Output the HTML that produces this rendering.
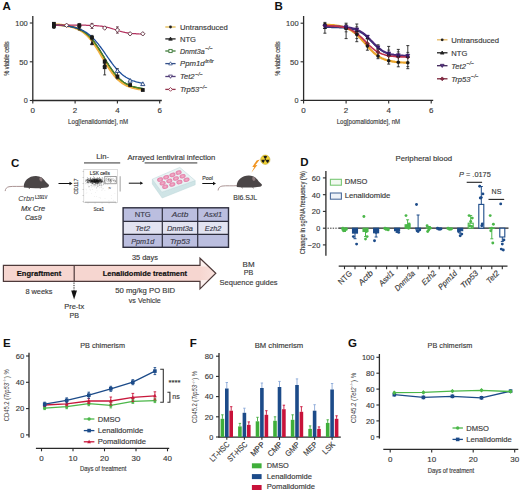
<!DOCTYPE html>
<html><head><meta charset="utf-8"><style>
html,body{margin:0;padding:0;background:#fff;width:520px;height:492px;overflow:hidden}
svg{display:block}
text{font-family:"Liberation Sans", sans-serif}
</style></head><body>
<svg width="520" height="492" viewBox="0 0 520 492" font-family='"Liberation Sans", sans-serif'>
<rect width="520" height="492" fill="#fff"/>
<text x="2.5" y="10.3" font-size="11.5" text-anchor="start" fill="#111" font-weight="bold">A</text>
<line x1="32.8" y1="16.0" x2="32.8" y2="101.1" stroke="#2a2a2a" stroke-width="1.3"/>
<line x1="32.2" y1="100.5" x2="161.8" y2="100.5" stroke="#2a2a2a" stroke-width="1.3"/>
<line x1="29.8" y1="100.5" x2="32.8" y2="100.5" stroke="#2a2a2a" stroke-width="1.1"/>
<text x="27.8" y="103.3" font-size="8" text-anchor="end" fill="#3a3a3a" stroke="#3a3a3a" stroke-width="0.15" textLength="4" lengthAdjust="spacingAndGlyphs">0</text>
<line x1="29.8" y1="61.8" x2="32.8" y2="61.8" stroke="#2a2a2a" stroke-width="1.1"/>
<text x="27.8" y="64.5" font-size="8" text-anchor="end" fill="#3a3a3a" stroke="#3a3a3a" stroke-width="0.15" textLength="8.5" lengthAdjust="spacingAndGlyphs">50</text>
<line x1="29.8" y1="23.0" x2="32.8" y2="23.0" stroke="#2a2a2a" stroke-width="1.1"/>
<text x="27.8" y="25.8" font-size="8" text-anchor="end" fill="#3a3a3a" stroke="#3a3a3a" stroke-width="0.15" textLength="12.5" lengthAdjust="spacingAndGlyphs">100</text>
<line x1="32.8" y1="100.5" x2="32.8" y2="103.5" stroke="#2a2a2a" stroke-width="1.1"/>
<text x="32.8" y="112.6" font-size="8" text-anchor="middle" fill="#3a3a3a" stroke="#3a3a3a" stroke-width="0.15">0</text>
<line x1="75.1" y1="100.5" x2="75.1" y2="103.5" stroke="#2a2a2a" stroke-width="1.1"/>
<text x="75.1" y="112.6" font-size="8" text-anchor="middle" fill="#3a3a3a" stroke="#3a3a3a" stroke-width="0.15">2</text>
<line x1="117.4" y1="100.5" x2="117.4" y2="103.5" stroke="#2a2a2a" stroke-width="1.1"/>
<text x="117.4" y="112.6" font-size="8" text-anchor="middle" fill="#3a3a3a" stroke="#3a3a3a" stroke-width="0.15">4</text>
<line x1="159.7" y1="100.5" x2="159.7" y2="103.5" stroke="#2a2a2a" stroke-width="1.1"/>
<text x="159.7" y="112.6" font-size="8" text-anchor="middle" fill="#3a3a3a" stroke="#3a3a3a" stroke-width="0.15">6</text>
<text x="98.1" y="123.6" font-size="7.5" text-anchor="middle" fill="#3a3a3a" stroke="#3a3a3a" stroke-width="0.15" textLength="60" lengthAdjust="spacingAndGlyphs">Log[lenalidomide], nM</text>
<text x="8.6" y="58.6" font-size="6.8" text-anchor="middle" fill="#3a3a3a" stroke="#3a3a3a" stroke-width="0.15" textLength="34.5" lengthAdjust="spacingAndGlyphs" transform="rotate(-90 8.6 58.6)">% viable cells</text>
<path d="M53.9,24.6 L55.0,24.6 L56.1,24.7 L57.1,24.8 L58.2,24.8 L59.2,24.9 L60.3,25.0 L61.4,25.1 L62.4,25.2 L63.5,25.3 L64.5,25.4 L65.6,25.6 L66.6,25.7 L67.7,25.9 L68.8,26.1 L69.8,26.3 L70.9,26.6 L71.9,26.8 L73.0,27.1 L74.0,27.4 L75.1,27.8 L76.2,28.2 L77.2,28.6 L78.3,29.1 L79.3,29.6 L80.4,30.2 L81.4,30.8 L82.5,31.5 L83.6,32.3 L84.6,33.1 L85.7,34.0 L86.7,34.9 L87.8,35.9 L88.8,37.0 L89.9,38.2 L91.0,39.5 L92.0,40.8 L93.1,42.2 L94.1,43.7 L95.2,45.2 L96.2,46.8 L97.3,48.5 L98.4,50.2 L99.4,51.9 L100.5,53.7 L101.5,55.5 L102.6,57.3 L103.7,59.1 L104.7,60.9 L105.8,62.7 L106.8,64.4 L107.9,66.1 L108.9,67.8 L110.0,69.4 L111.1,70.9 L112.1,72.4 L113.2,73.8 L114.2,75.1 L115.3,76.4 L116.3,77.5 L117.4,78.6 L118.5,79.7 L119.5,80.6 L120.6,81.5 L121.6,82.3 L122.7,83.1 L123.7,83.7 L124.8,84.4 L125.9,84.9 L126.9,85.5 L128.0,85.9 L129.0,86.4 L130.1,86.8 L131.1,87.1 L132.2,87.5 L133.3,87.8 L134.3,88.0 L135.4,88.3 L136.4,88.5 L137.5,88.7 L138.6,88.9 L139.6,89.0 L140.7,89.2 L141.7,89.3 L142.8,89.4" stroke="#f0b040" fill="none" stroke-width="2.6" stroke-linecap="round"/>
<path d="M53.9,24.9 L55.0,25.0 L56.1,25.0 L57.1,25.1 L58.2,25.1 L59.2,25.2 L60.3,25.2 L61.4,25.3 L62.4,25.4 L63.5,25.5 L64.5,25.6 L65.6,25.7 L66.6,25.9 L67.7,26.0 L68.8,26.2 L69.8,26.4 L70.9,26.6 L71.9,26.8 L73.0,27.1 L74.0,27.3 L75.1,27.6 L76.2,28.0 L77.2,28.4 L78.3,28.8 L79.3,29.2 L80.4,29.7 L81.4,30.3 L82.5,30.9 L83.6,31.5 L84.6,32.2 L85.7,33.0 L86.7,33.8 L87.8,34.7 L88.8,35.7 L89.9,36.8 L91.0,37.9 L92.0,39.1 L93.1,40.4 L94.1,41.7 L95.2,43.1 L96.2,44.6 L97.3,46.2 L98.4,47.8 L99.4,49.4 L100.5,51.1 L101.5,52.9 L102.6,54.6 L103.7,56.4 L104.7,58.2 L105.8,59.9 L106.8,61.7 L107.9,63.4 L108.9,65.1 L110.0,66.8 L111.1,68.4 L112.1,69.9 L113.2,71.4 L114.2,72.8 L115.3,74.1 L116.3,75.4 L117.4,76.5 L118.5,77.7 L119.5,78.7 L120.6,79.6 L121.6,80.5 L122.7,81.4 L123.7,82.1 L124.8,82.8 L125.9,83.5 L126.9,84.0 L128.0,84.6 L129.0,85.1 L130.1,85.5 L131.1,85.9 L132.2,86.3 L133.3,86.6 L134.3,86.9 L135.4,87.2 L136.4,87.4 L137.5,87.7 L138.6,87.9 L139.6,88.0 L140.7,88.2 L141.7,88.4 L142.8,88.5" stroke="#222222" fill="none" stroke-width="1.1" stroke-linecap="round"/>
<path d="M53.9,24.9 L55.0,25.0 L56.1,25.0 L57.1,25.1 L58.2,25.1 L59.2,25.2 L60.3,25.3 L61.4,25.3 L62.4,25.4 L63.5,25.5 L64.5,25.6 L65.6,25.8 L66.6,25.9 L67.7,26.1 L68.8,26.2 L69.8,26.4 L70.9,26.6 L71.9,26.9 L73.0,27.1 L74.0,27.4 L75.1,27.7 L76.2,28.1 L77.2,28.4 L78.3,28.9 L79.3,29.3 L80.4,29.8 L81.4,30.4 L82.5,31.0 L83.6,31.7 L84.6,32.4 L85.7,33.2 L86.7,34.0 L87.8,34.9 L88.8,35.9 L89.9,37.0 L91.0,38.1 L92.0,39.3 L93.1,40.6 L94.1,42.0 L95.2,43.4 L96.2,44.9 L97.3,46.5 L98.4,48.1 L99.4,49.8 L100.5,51.5 L101.5,53.2 L102.6,55.0 L103.7,56.7 L104.7,58.5 L105.8,60.3 L106.8,62.0 L107.9,63.8 L108.9,65.5 L110.0,67.1 L111.1,68.7 L112.1,70.2 L113.2,71.7 L114.2,73.0 L115.3,74.4 L116.3,75.6 L117.4,76.8 L118.5,77.9 L119.5,78.9 L120.6,79.8 L121.6,80.7 L122.7,81.5 L123.7,82.3 L124.8,83.0 L125.9,83.6 L126.9,84.2 L128.0,84.7 L129.0,85.2 L130.1,85.6 L131.1,86.0 L132.2,86.4 L133.3,86.7 L134.3,87.0 L135.4,87.2 L136.4,87.5 L137.5,87.7 L138.6,87.9 L139.6,88.1 L140.7,88.2 L141.7,88.4 L142.8,88.5" stroke="#4a8a2a" fill="none" stroke-width="1.3" stroke-linecap="round"/>
<path d="M53.9,25.0 L55.0,25.0 L56.1,25.1 L57.1,25.1 L58.2,25.2 L59.2,25.2 L60.3,25.3 L61.4,25.4 L62.4,25.5 L63.5,25.6 L64.5,25.7 L65.6,25.8 L66.6,25.9 L67.7,26.1 L68.8,26.2 L69.8,26.4 L70.9,26.6 L71.9,26.8 L73.0,27.0 L74.0,27.3 L75.1,27.5 L76.2,27.8 L77.2,28.2 L78.3,28.5 L79.3,28.9 L80.4,29.3 L81.4,29.8 L82.5,30.3 L83.6,30.9 L84.6,31.5 L85.7,32.1 L86.7,32.8 L87.8,33.6 L88.8,34.4 L89.9,35.2 L91.0,36.1 L92.0,37.1 L93.1,38.2 L94.1,39.3 L95.2,40.4 L96.2,41.6 L97.3,42.9 L98.4,44.2 L99.4,45.6 L100.5,47.0 L101.5,48.4 L102.6,49.9 L103.7,51.4 L104.7,52.9 L105.8,54.5 L106.8,56.0 L107.9,57.5 L108.9,59.0 L110.0,60.5 L111.1,62.0 L112.1,63.4 L113.2,64.8 L114.2,66.1 L115.3,67.4 L116.3,68.7 L117.4,69.8 L118.5,71.0 L119.5,72.0 L120.6,73.0 L121.6,74.0 L122.7,74.9 L123.7,75.7 L124.8,76.4 L125.9,77.2 L126.9,77.8 L128.0,78.4 L129.0,79.0 L130.1,79.5 L131.1,80.0 L132.2,80.5 L133.3,80.9 L134.3,81.2 L135.4,81.6 L136.4,81.9 L137.5,82.2 L138.6,82.4 L139.6,82.7 L140.7,82.9 L141.7,83.1 L142.8,83.3" stroke="#1e4f9c" fill="none" stroke-width="1.3" stroke-linecap="round"/>
<path d="M53.9,25.1 L55.0,25.1 L56.1,25.1 L57.1,25.1 L58.2,25.1 L59.2,25.1 L60.3,25.1 L61.4,25.1 L62.4,25.1 L63.5,25.1 L64.5,25.1 L65.6,25.1 L66.6,25.1 L67.7,25.1 L68.8,25.1 L69.8,25.1 L70.9,25.1 L71.9,25.1 L73.0,25.1 L74.0,25.1 L75.1,25.1 L76.2,25.1 L77.2,25.1 L78.3,25.1 L79.3,25.1 L80.4,25.2 L81.4,25.2 L82.5,25.2 L83.6,25.2 L84.6,25.2 L85.7,25.2 L86.7,25.3 L87.8,25.3 L88.8,25.3 L89.9,25.3 L91.0,25.4 L92.0,25.4 L93.1,25.5 L94.1,25.5 L95.2,25.6 L96.2,25.7 L97.3,25.8 L98.4,25.9 L99.4,26.0 L100.5,26.1 L101.5,26.2 L102.6,26.4 L103.7,26.6 L104.7,26.8 L105.8,27.0 L106.8,27.2 L107.9,27.5 L108.9,27.7 L110.0,28.0 L111.1,28.3 L112.1,28.7 L113.2,29.0 L114.2,29.3 L115.3,29.7 L116.3,30.0 L117.4,30.3 L118.5,30.7 L119.5,31.0 L120.6,31.3 L121.6,31.6 L122.7,31.9 L123.7,32.1 L124.8,32.4 L125.9,32.6 L126.9,32.8 L128.0,32.9 L129.0,33.1 L130.1,33.2 L131.1,33.4 L132.2,33.5 L133.3,33.6 L134.3,33.7 L135.4,33.7 L136.4,33.8 L137.5,33.9 L138.6,33.9 L139.6,34.0 L140.7,34.0 L141.7,34.0 L142.8,34.1" stroke="#b3305e" fill="none" stroke-width="1.2"/>
<line x1="53.9" y1="23.0" x2="53.9" y2="28.4" stroke="#222" stroke-width="0.9"/>
<line x1="52.5" y1="23.0" x2="55.3" y2="23.0" stroke="#222" stroke-width="0.9"/>
<line x1="52.5" y1="28.4" x2="55.3" y2="28.4" stroke="#222" stroke-width="0.9"/>
<line x1="79.3" y1="23.8" x2="79.3" y2="30.0" stroke="#222" stroke-width="0.9"/>
<line x1="77.9" y1="23.8" x2="80.7" y2="23.8" stroke="#222" stroke-width="0.9"/>
<line x1="77.9" y1="30.0" x2="80.7" y2="30.0" stroke="#222" stroke-width="0.9"/>
<line x1="92.0" y1="35.4" x2="92.0" y2="44.7" stroke="#222" stroke-width="0.9"/>
<line x1="90.6" y1="35.4" x2="93.4" y2="35.4" stroke="#222" stroke-width="0.9"/>
<line x1="90.6" y1="44.7" x2="93.4" y2="44.7" stroke="#222" stroke-width="0.9"/>
<line x1="104.7" y1="59.4" x2="104.7" y2="74.9" stroke="#222" stroke-width="0.9"/>
<line x1="103.3" y1="59.4" x2="106.1" y2="59.4" stroke="#222" stroke-width="0.9"/>
<line x1="103.3" y1="74.9" x2="106.1" y2="74.9" stroke="#222" stroke-width="0.9"/>
<line x1="117.4" y1="68.7" x2="117.4" y2="78.8" stroke="#222" stroke-width="0.9"/>
<line x1="116.0" y1="68.7" x2="118.8" y2="68.7" stroke="#222" stroke-width="0.9"/>
<line x1="116.0" y1="78.8" x2="118.8" y2="78.8" stroke="#222" stroke-width="0.9"/>
<line x1="92.0" y1="23.4" x2="92.0" y2="28.4" stroke="#5a2a3a" stroke-width="0.9"/>
<line x1="90.6" y1="23.4" x2="93.4" y2="23.4" stroke="#5a2a3a" stroke-width="0.9"/>
<line x1="90.6" y1="28.4" x2="93.4" y2="28.4" stroke="#5a2a3a" stroke-width="0.9"/>
<line x1="117.4" y1="26.9" x2="117.4" y2="33.1" stroke="#5a2a3a" stroke-width="0.9"/>
<line x1="116.0" y1="26.9" x2="118.8" y2="26.9" stroke="#5a2a3a" stroke-width="0.9"/>
<line x1="116.0" y1="33.1" x2="118.8" y2="33.1" stroke="#5a2a3a" stroke-width="0.9"/>
<path d="M66.6,23.1 L68.8,25.3 L66.6,27.5 L64.4,25.3 Z" stroke="#5a2a3a" fill="#fff" stroke-width="0.9"/>
<path d="M79.3,23.5 L81.5,25.7 L79.3,27.9 L77.1,25.7 Z" stroke="#5a2a3a" fill="#fff" stroke-width="0.9"/>
<path d="M92.0,23.5 L94.2,25.7 L92.0,27.9 L89.8,25.7 Z" stroke="#5a2a3a" fill="#fff" stroke-width="0.9"/>
<path d="M104.7,25.8 L106.9,28.0 L104.7,30.2 L102.5,28.0 Z" stroke="#5a2a3a" fill="#fff" stroke-width="0.9"/>
<path d="M117.4,27.8 L119.6,30.0 L117.4,32.2 L115.2,30.0 Z" stroke="#5a2a3a" fill="#fff" stroke-width="0.9"/>
<path d="M130.1,31.6 L132.3,33.8 L130.1,36.0 L127.9,33.8 Z" stroke="#5a2a3a" fill="#fff" stroke-width="0.9"/>
<path d="M142.8,31.6 L145.0,33.8 L142.8,36.0 L140.6,33.8 Z" stroke="#5a2a3a" fill="#fff" stroke-width="0.9"/>
<rect x="52.0" y="21.9" width="3.8" height="3.8" fill="#1a1a1a" stroke="none" stroke-width="1"/>
<rect x="52.0" y="24.2" width="3.8" height="3.8" fill="#1a1a1a" stroke="none" stroke-width="1"/>
<rect x="77.4" y="23.4" width="3.8" height="3.8" fill="#1a1a1a" stroke="none" stroke-width="1"/>
<rect x="90.1" y="35.8" width="3.8" height="3.8" fill="#1a1a1a" stroke="none" stroke-width="1"/>
<rect x="102.8" y="59.9" width="3.8" height="3.8" fill="#1a1a1a" stroke="none" stroke-width="1"/>
<rect x="102.8" y="65.3" width="3.8" height="3.8" fill="#1a1a1a" stroke="none" stroke-width="1"/>
<rect x="115.5" y="74.6" width="3.8" height="3.8" fill="#1a1a1a" stroke="none" stroke-width="1"/>
<rect x="128.2" y="83.1" width="3.8" height="3.8" fill="#1a1a1a" stroke="none" stroke-width="1"/>
<rect x="140.9" y="88.1" width="3.8" height="3.8" fill="#1a1a1a" stroke="none" stroke-width="1"/>
<path d="M53.9,23.1 L56.0,26.9 L51.8,26.9 Z" stroke="none" fill="#1a1a1a" stroke-width="1"/>
<path d="M79.3,24.7 L81.4,28.5 L77.2,28.5 Z" stroke="none" fill="#1a1a1a" stroke-width="1"/>
<path d="M92.0,40.9 L94.1,44.8 L89.9,44.8 Z" stroke="none" fill="#1a1a1a" stroke-width="1"/>
<path d="M104.7,62.6 L106.8,66.4 L102.6,66.4 Z" stroke="none" fill="#1a1a1a" stroke-width="1"/>
<path d="M117.4,68.6 L119.5,72.4 L115.3,72.4 Z" stroke="#1e3f7c" fill="#fff" stroke-width="0.9"/>
<path d="M130.1,78.4 L132.2,82.2 L128.0,82.2 Z" stroke="#1e3f7c" fill="#fff" stroke-width="0.9"/>
<path d="M142.8,81.8 L144.9,85.6 L140.7,85.6 Z" stroke="#1e3f7c" fill="#fff" stroke-width="0.9"/>
<line x1="165.3" y1="27.0" x2="175.6" y2="27.0" stroke="#e2b850" stroke-width="1.3"/>
<circle cx="170.5" cy="27.0" r="1.4" fill="#222" stroke="none" stroke-width="1"/>
<text x="180.0" y="29.8" font-size="7.8" text-anchor="start" fill="#3a3a3a" stroke="#3a3a3a" stroke-width="0.15" textLength="47.8" lengthAdjust="spacingAndGlyphs">Untransduced</text>
<line x1="165.3" y1="38.9" x2="175.6" y2="38.9" stroke="#222" stroke-width="1.3"/>
<path d="M170.5,37.1 L172.3,40.199999999999996 L168.7,40.199999999999996 Z" stroke="#222" fill="#222" stroke-width="0.8"/>
<text x="180.0" y="41.7" font-size="7.8" text-anchor="start" fill="#3a3a3a" stroke="#3a3a3a" stroke-width="0.15" textLength="16" lengthAdjust="spacingAndGlyphs">NTG</text>
<line x1="165.3" y1="51.0" x2="175.6" y2="51.0" stroke="#3f7a3a" stroke-width="1.3"/>
<rect x="168.9" y="49.4" width="3.2" height="3.2" fill="#fff" stroke="#3f7a3a" stroke-width="0.9"/>
<text x="180.0" y="53.8" font-size="7.8" text-anchor="start" fill="#3a3a3a" stroke="#3a3a3a" stroke-width="0.15" font-style="italic" textLength="24.6" lengthAdjust="spacingAndGlyphs">Dnmt3a</text>
<text x="205.2" y="50.4" font-size="4.6" text-anchor="start" fill="#3a3a3a" stroke="#3a3a3a" stroke-width="0.15" font-style="italic" textLength="7.6" lengthAdjust="spacingAndGlyphs">−/−</text>
<line x1="165.3" y1="63.6" x2="175.6" y2="63.6" stroke="#34508a" stroke-width="1.3"/>
<path d="M170.5,61.800000000000004 L172.3,64.9 L168.7,64.9 Z" stroke="#34508a" fill="#fff" stroke-width="0.8"/>
<text x="180.0" y="66.4" font-size="7.8" text-anchor="start" fill="#3a3a3a" stroke="#3a3a3a" stroke-width="0.15" font-style="italic" textLength="24.6" lengthAdjust="spacingAndGlyphs">Ppm1d</text>
<text x="205.2" y="63.0" font-size="4.6" text-anchor="start" fill="#3a3a3a" stroke="#3a3a3a" stroke-width="0.15" font-style="italic" textLength="8.6" lengthAdjust="spacingAndGlyphs">tr/tr</text>
<line x1="165.3" y1="76.5" x2="175.6" y2="76.5" stroke="#54407a" stroke-width="1.3"/>
<path d="M168.6,75.1 L172.4,75.1 L170.5,78.3 Z" stroke="#54407a" fill="#fff" stroke-width="0.9"/>
<text x="180.0" y="79.3" font-size="7.8" text-anchor="start" fill="#3a3a3a" stroke="#3a3a3a" stroke-width="0.15" font-style="italic" textLength="14.6" lengthAdjust="spacingAndGlyphs">Tet2</text>
<text x="195.2" y="75.9" font-size="4.6" text-anchor="start" fill="#3a3a3a" stroke="#3a3a3a" stroke-width="0.15" font-style="italic" textLength="7.6" lengthAdjust="spacingAndGlyphs">−/−</text>
<line x1="165.3" y1="89.4" x2="175.6" y2="89.4" stroke="#94364e" stroke-width="1.3"/>
<path d="M170.5,87.5 L172.4,89.4 L170.5,91.30000000000001 L168.6,89.4 Z" stroke="#94364e" fill="#fff" stroke-width="0.9"/>
<text x="180.0" y="92.2" font-size="7.8" text-anchor="start" fill="#3a3a3a" stroke="#3a3a3a" stroke-width="0.15" font-style="italic" textLength="19.2" lengthAdjust="spacingAndGlyphs">Trp53</text>
<text x="199.8" y="88.8" font-size="4.6" text-anchor="start" fill="#3a3a3a" stroke="#3a3a3a" stroke-width="0.15" font-style="italic" textLength="7.6" lengthAdjust="spacingAndGlyphs">−/−</text>
<text x="274.5" y="10.3" font-size="11.5" text-anchor="start" fill="#111" font-weight="bold">B</text>
<line x1="303.6" y1="16.0" x2="303.6" y2="101.0" stroke="#2a2a2a" stroke-width="1.3"/>
<line x1="303.0" y1="100.4" x2="433.2" y2="100.4" stroke="#2a2a2a" stroke-width="1.3"/>
<line x1="300.6" y1="100.4" x2="303.6" y2="100.4" stroke="#2a2a2a" stroke-width="1.1"/>
<text x="298.6" y="103.2" font-size="8" text-anchor="end" fill="#3a3a3a" stroke="#3a3a3a" stroke-width="0.15" textLength="4" lengthAdjust="spacingAndGlyphs">0</text>
<line x1="300.6" y1="61.8" x2="303.6" y2="61.8" stroke="#2a2a2a" stroke-width="1.1"/>
<text x="298.6" y="64.6" font-size="8" text-anchor="end" fill="#3a3a3a" stroke="#3a3a3a" stroke-width="0.15" textLength="8.5" lengthAdjust="spacingAndGlyphs">50</text>
<line x1="300.6" y1="23.2" x2="303.6" y2="23.2" stroke="#2a2a2a" stroke-width="1.1"/>
<text x="298.6" y="26.0" font-size="8" text-anchor="end" fill="#3a3a3a" stroke="#3a3a3a" stroke-width="0.15" textLength="12.5" lengthAdjust="spacingAndGlyphs">100</text>
<line x1="303.6" y1="100.4" x2="303.6" y2="103.4" stroke="#2a2a2a" stroke-width="1.1"/>
<text x="303.6" y="112.6" font-size="8" text-anchor="middle" fill="#3a3a3a" stroke="#3a3a3a" stroke-width="0.15">0</text>
<line x1="346.1" y1="100.4" x2="346.1" y2="103.4" stroke="#2a2a2a" stroke-width="1.1"/>
<text x="346.1" y="112.6" font-size="8" text-anchor="middle" fill="#3a3a3a" stroke="#3a3a3a" stroke-width="0.15">2</text>
<line x1="388.7" y1="100.4" x2="388.7" y2="103.4" stroke="#2a2a2a" stroke-width="1.1"/>
<text x="388.7" y="112.6" font-size="8" text-anchor="middle" fill="#3a3a3a" stroke="#3a3a3a" stroke-width="0.15">4</text>
<line x1="431.2" y1="100.4" x2="431.2" y2="103.4" stroke="#2a2a2a" stroke-width="1.1"/>
<text x="431.2" y="112.6" font-size="8" text-anchor="middle" fill="#3a3a3a" stroke="#3a3a3a" stroke-width="0.15">6</text>
<text x="368.4" y="123.6" font-size="7.5" text-anchor="middle" fill="#3a3a3a" stroke="#3a3a3a" stroke-width="0.15" textLength="63.5" lengthAdjust="spacingAndGlyphs">Log[pomalidomide], nM</text>
<text x="279.6" y="58.6" font-size="6.8" text-anchor="middle" fill="#3a3a3a" stroke="#3a3a3a" stroke-width="0.15" textLength="34.5" lengthAdjust="spacingAndGlyphs" transform="rotate(-90 279.6 58.6)">% viable cells</text>
<path d="M324.9,24.7 L325.9,24.7 L326.8,24.8 L327.8,24.8 L328.8,24.9 L329.8,24.9 L330.8,25.0 L331.8,25.1 L332.8,25.1 L333.8,25.2 L334.7,25.3 L335.7,25.5 L336.7,25.6 L337.7,25.8 L338.7,25.9 L339.7,26.1 L340.7,26.3 L341.7,26.5 L342.6,26.8 L343.6,27.1 L344.6,27.4 L345.6,27.7 L346.6,28.1 L347.6,28.5 L348.6,29.0 L349.6,29.5 L350.5,30.0 L351.5,30.6 L352.5,31.3 L353.5,32.0 L354.5,32.7 L355.5,33.5 L356.5,34.4 L357.5,35.3 L358.4,36.2 L359.4,37.2 L360.4,38.2 L361.4,39.3 L362.4,40.4 L363.4,41.5 L364.4,42.6 L365.4,43.7 L366.3,44.9 L367.3,46.0 L368.3,47.1 L369.3,48.2 L370.3,49.3 L371.3,50.3 L372.3,51.3 L373.3,52.2 L374.2,53.1 L375.2,53.9 L376.2,54.7 L377.2,55.4 L378.2,56.1 L379.2,56.8 L380.2,57.4 L381.2,57.9 L382.1,58.4 L383.1,58.8 L384.1,59.3 L385.1,59.6 L386.1,60.0 L387.1,60.3 L388.1,60.6 L389.1,60.8 L390.0,61.0 L391.0,61.2 L392.0,61.4 L393.0,61.6 L394.0,61.7 L395.0,61.9 L396.0,62.0 L397.0,62.1 L397.9,62.2 L398.9,62.3 L399.9,62.3 L400.9,62.4 L401.9,62.5 L402.9,62.5 L403.9,62.6 L404.9,62.6 L405.8,62.7 L406.8,62.7 L407.8,62.7" stroke="#eaa42a" fill="none" stroke-width="2.2" stroke-linecap="round"/>
<path d="M324.9,27.5 L325.9,27.5 L326.8,27.5 L327.8,27.5 L328.8,27.5 L329.8,27.5 L330.8,27.5 L331.8,27.6 L332.8,27.6 L333.8,27.6 L334.7,27.6 L335.7,27.6 L336.7,27.7 L337.7,27.7 L338.7,27.7 L339.7,27.8 L340.7,27.8 L341.7,27.9 L342.6,27.9 L343.6,28.0 L344.6,28.1 L345.6,28.2 L346.6,28.3 L347.6,28.4 L348.6,28.5 L349.6,28.7 L350.5,28.9 L351.5,29.1 L352.5,29.3 L353.5,29.5 L354.5,29.8 L355.5,30.1 L356.5,30.5 L357.5,30.9 L358.4,31.3 L359.4,31.8 L360.4,32.4 L361.4,33.0 L362.4,33.6 L363.4,34.3 L364.4,35.1 L365.4,35.9 L366.3,36.7 L367.3,37.6 L368.3,38.6 L369.3,39.5 L370.3,40.5 L371.3,41.5 L372.3,42.5 L373.3,43.5 L374.2,44.5 L375.2,45.5 L376.2,46.4 L377.2,47.3 L378.2,48.1 L379.2,48.9 L380.2,49.7 L381.2,50.4 L382.1,51.0 L383.1,51.6 L384.1,52.1 L385.1,52.6 L386.1,53.0 L387.1,53.4 L388.1,53.8 L389.1,54.1 L390.0,54.4 L391.0,54.6 L392.0,54.8 L393.0,55.0 L394.0,55.2 L395.0,55.3 L396.0,55.5 L397.0,55.6 L397.9,55.7 L398.9,55.8 L399.9,55.9 L400.9,55.9 L401.9,56.0 L402.9,56.0 L403.9,56.1 L404.9,56.1 L405.8,56.2 L406.8,56.2 L407.8,56.2" stroke="#1e3f7c" fill="none" stroke-width="1.2" stroke-linecap="round"/>
<path d="M324.9,26.3 L325.9,26.3 L326.8,26.3 L327.8,26.4 L328.8,26.4 L329.8,26.4 L330.8,26.4 L331.8,26.4 L332.8,26.4 L333.8,26.4 L334.7,26.5 L335.7,26.5 L336.7,26.5 L337.7,26.5 L338.7,26.6 L339.7,26.6 L340.7,26.7 L341.7,26.7 L342.6,26.8 L343.6,26.9 L344.6,26.9 L345.6,27.0 L346.6,27.1 L347.6,27.3 L348.6,27.4 L349.6,27.6 L350.5,27.7 L351.5,27.9 L352.5,28.2 L353.5,28.4 L354.5,28.7 L355.5,29.1 L356.5,29.4 L357.5,29.8 L358.4,30.3 L359.4,30.8 L360.4,31.4 L361.4,32.0 L362.4,32.6 L363.4,33.4 L364.4,34.1 L365.4,35.0 L366.3,35.8 L367.3,36.8 L368.3,37.7 L369.3,38.7 L370.3,39.7 L371.3,40.8 L372.3,41.8 L373.3,42.8 L374.2,43.8 L375.2,44.8 L376.2,45.8 L377.2,46.7 L378.2,47.5 L379.2,48.4 L380.2,49.1 L381.2,49.8 L382.1,50.5 L383.1,51.1 L384.1,51.6 L385.1,52.1 L386.1,52.6 L387.1,53.0 L388.1,53.3 L389.1,53.6 L390.0,53.9 L391.0,54.2 L392.0,54.4 L393.0,54.6 L394.0,54.8 L395.0,54.9 L396.0,55.1 L397.0,55.2 L397.9,55.3 L398.9,55.4 L399.9,55.5 L400.9,55.5 L401.9,55.6 L402.9,55.6 L403.9,55.7 L404.9,55.7 L405.8,55.8 L406.8,55.8 L407.8,55.8" stroke="#4a2a7a" fill="none" stroke-width="2.0" stroke-linecap="round"/>
<path d="M324.9,25.7 L325.9,25.7 L326.8,25.7 L327.8,25.8 L328.8,25.8 L329.8,25.8 L330.8,25.9 L331.8,25.9 L332.8,26.0 L333.8,26.0 L334.7,26.1 L335.7,26.2 L336.7,26.3 L337.7,26.4 L338.7,26.5 L339.7,26.6 L340.7,26.8 L341.7,26.9 L342.6,27.1 L343.6,27.3 L344.6,27.5 L345.6,27.8 L346.6,28.1 L347.6,28.4 L348.6,28.8 L349.6,29.1 L350.5,29.6 L351.5,30.1 L352.5,30.6 L353.5,31.2 L354.5,31.8 L355.5,32.4 L356.5,33.2 L357.5,33.9 L358.4,34.7 L359.4,35.6 L360.4,36.5 L361.4,37.4 L362.4,38.4 L363.4,39.4 L364.4,40.4 L365.4,41.4 L366.3,42.4 L367.3,43.4 L368.3,44.4 L369.3,45.4 L370.3,46.3 L371.3,47.2 L372.3,48.1 L373.3,48.9 L374.2,49.6 L375.2,50.4 L376.2,51.0 L377.2,51.6 L378.2,52.2 L379.2,52.7 L380.2,53.2 L381.2,53.6 L382.1,54.0 L383.1,54.3 L384.1,54.6 L385.1,54.9 L386.1,55.2 L387.1,55.4 L388.1,55.6 L389.1,55.8 L390.0,55.9 L391.0,56.1 L392.0,56.2 L393.0,56.3 L394.0,56.4 L395.0,56.5 L396.0,56.6 L397.0,56.7 L397.9,56.7 L398.9,56.8 L399.9,56.8 L400.9,56.9 L401.9,56.9 L402.9,56.9 L403.9,57.0 L404.9,57.0 L405.8,57.0 L406.8,57.0 L407.8,57.0" stroke="#c0304e" fill="none" stroke-width="1.6" stroke-linecap="round"/>
<line x1="324.9" y1="22.4" x2="324.9" y2="33.2" stroke="#222" stroke-width="0.9"/>
<line x1="323.4" y1="22.4" x2="326.4" y2="22.4" stroke="#222" stroke-width="0.9"/>
<line x1="323.4" y1="33.2" x2="326.4" y2="33.2" stroke="#222" stroke-width="0.9"/>
<line x1="323.5" y1="28.5" x2="326.3" y2="28.5" stroke="#222" stroke-width="0.8"/>
<line x1="323.5" y1="23.6" x2="326.3" y2="23.6" stroke="#222" stroke-width="0.8"/>
<line x1="346.1" y1="23.2" x2="346.1" y2="38.6" stroke="#222" stroke-width="0.9"/>
<line x1="344.6" y1="23.2" x2="347.6" y2="23.2" stroke="#222" stroke-width="0.9"/>
<line x1="344.6" y1="38.6" x2="347.6" y2="38.6" stroke="#222" stroke-width="0.9"/>
<line x1="344.7" y1="31.8" x2="347.5" y2="31.8" stroke="#222" stroke-width="0.8"/>
<line x1="344.7" y1="24.4" x2="347.5" y2="24.4" stroke="#222" stroke-width="0.8"/>
<line x1="356.8" y1="24.0" x2="356.8" y2="41.7" stroke="#222" stroke-width="0.9"/>
<line x1="355.3" y1="24.0" x2="358.3" y2="24.0" stroke="#222" stroke-width="0.9"/>
<line x1="355.3" y1="41.7" x2="358.3" y2="41.7" stroke="#222" stroke-width="0.9"/>
<line x1="355.4" y1="38.5" x2="358.2" y2="38.5" stroke="#222" stroke-width="0.8"/>
<line x1="355.4" y1="26.8" x2="358.2" y2="26.8" stroke="#222" stroke-width="0.8"/>
<line x1="367.4" y1="35.6" x2="367.4" y2="50.2" stroke="#222" stroke-width="0.9"/>
<line x1="365.9" y1="35.6" x2="368.9" y2="35.6" stroke="#222" stroke-width="0.9"/>
<line x1="365.9" y1="50.2" x2="368.9" y2="50.2" stroke="#222" stroke-width="0.9"/>
<line x1="378.0" y1="44.8" x2="378.0" y2="58.7" stroke="#222" stroke-width="0.9"/>
<line x1="376.5" y1="44.8" x2="379.5" y2="44.8" stroke="#222" stroke-width="0.9"/>
<line x1="376.5" y1="58.7" x2="379.5" y2="58.7" stroke="#222" stroke-width="0.9"/>
<line x1="388.7" y1="46.4" x2="388.7" y2="64.1" stroke="#222" stroke-width="0.9"/>
<line x1="387.2" y1="46.4" x2="390.2" y2="46.4" stroke="#222" stroke-width="0.9"/>
<line x1="387.2" y1="64.1" x2="390.2" y2="64.1" stroke="#222" stroke-width="0.9"/>
<line x1="387.3" y1="50.1" x2="390.1" y2="50.1" stroke="#222" stroke-width="0.8"/>
<line x1="398.3" y1="49.4" x2="398.3" y2="66.8" stroke="#222" stroke-width="0.9"/>
<line x1="396.8" y1="49.4" x2="399.8" y2="49.4" stroke="#222" stroke-width="0.9"/>
<line x1="396.8" y1="66.8" x2="399.8" y2="66.8" stroke="#222" stroke-width="0.9"/>
<line x1="396.9" y1="51.9" x2="399.7" y2="51.9" stroke="#222" stroke-width="0.8"/>
<line x1="407.8" y1="45.6" x2="407.8" y2="68.7" stroke="#222" stroke-width="0.9"/>
<line x1="406.3" y1="45.6" x2="409.3" y2="45.6" stroke="#222" stroke-width="0.9"/>
<line x1="406.3" y1="68.7" x2="409.3" y2="68.7" stroke="#222" stroke-width="0.9"/>
<line x1="406.4" y1="66.6" x2="409.2" y2="66.6" stroke="#222" stroke-width="0.8"/>
<line x1="406.4" y1="52.4" x2="409.2" y2="52.4" stroke="#222" stroke-width="0.8"/>
<path d="M324.9,23.7 L326.9,25.7 L324.9,27.7 L322.9,25.7 Z" stroke="#5a1a2a" fill="#7a2a3a" stroke-width="0.6"/>
<circle cx="324.9" cy="24.7" r="1.8" fill="#1a1a1a" stroke="none" stroke-width="1"/>
<path d="M324.9,25.3 L327.0,29.1 L322.8,29.1 Z" stroke="none" fill="#1a1a1a" stroke-width="1"/>
<path d="M323.0,24.8 L326.8,24.8 L324.9,28.1 Z" stroke="#3a1a6a" fill="#3a1a6a" stroke-width="0.8"/>
<path d="M346.1,25.9 L348.1,27.9 L346.1,29.9 L344.1,27.9 Z" stroke="#5a1a2a" fill="#7a2a3a" stroke-width="0.6"/>
<circle cx="346.1" cy="27.9" r="1.8" fill="#1a1a1a" stroke="none" stroke-width="1"/>
<path d="M346.1,26.0 L348.2,29.8 L344.0,29.8 Z" stroke="none" fill="#1a1a1a" stroke-width="1"/>
<path d="M344.2,25.6 L348.0,25.6 L346.1,28.9 Z" stroke="#3a1a6a" fill="#3a1a6a" stroke-width="0.8"/>
<path d="M356.8,31.4 L358.8,33.4 L356.8,35.4 L354.8,33.4 Z" stroke="#5a1a2a" fill="#7a2a3a" stroke-width="0.6"/>
<circle cx="356.8" cy="34.6" r="1.8" fill="#1a1a1a" stroke="none" stroke-width="1"/>
<path d="M356.8,28.4 L358.9,32.2 L354.7,32.2 Z" stroke="none" fill="#1a1a1a" stroke-width="1"/>
<path d="M354.9,28.0 L358.7,28.0 L356.8,31.3 Z" stroke="#3a1a6a" fill="#3a1a6a" stroke-width="0.8"/>
<path d="M367.4,41.5 L369.4,43.5 L367.4,45.5 L365.4,43.5 Z" stroke="#5a1a2a" fill="#7a2a3a" stroke-width="0.6"/>
<circle cx="367.4" cy="46.1" r="1.8" fill="#1a1a1a" stroke="none" stroke-width="1"/>
<path d="M367.4,35.5 L369.5,39.3 L365.3,39.3 Z" stroke="none" fill="#1a1a1a" stroke-width="1"/>
<path d="M365.5,35.3 L369.3,35.3 L367.4,38.6 Z" stroke="#3a1a6a" fill="#3a1a6a" stroke-width="0.8"/>
<path d="M378.0,50.1 L380.0,52.1 L378.0,54.1 L376.0,52.1 Z" stroke="#5a1a2a" fill="#7a2a3a" stroke-width="0.6"/>
<circle cx="378.0" cy="56.0" r="1.8" fill="#1a1a1a" stroke="none" stroke-width="1"/>
<path d="M378.0,45.8 L380.1,49.6 L375.9,49.6 Z" stroke="none" fill="#1a1a1a" stroke-width="1"/>
<path d="M376.1,45.9 L379.9,45.9 L378.0,49.2 Z" stroke="#3a1a6a" fill="#3a1a6a" stroke-width="0.8"/>
<path d="M388.7,53.7 L390.7,55.7 L388.7,57.7 L386.7,55.7 Z" stroke="#5a1a2a" fill="#7a2a3a" stroke-width="0.6"/>
<circle cx="388.7" cy="60.7" r="1.8" fill="#1a1a1a" stroke="none" stroke-width="1"/>
<path d="M388.7,51.8 L390.8,55.6 L386.6,55.6 Z" stroke="none" fill="#1a1a1a" stroke-width="1"/>
<path d="M386.8,52.0 L390.6,52.0 L388.7,55.3 Z" stroke="#3a1a6a" fill="#3a1a6a" stroke-width="0.8"/>
<path d="M398.3,54.7 L400.3,56.7 L398.3,58.7 L396.3,56.7 Z" stroke="#5a1a2a" fill="#7a2a3a" stroke-width="0.6"/>
<circle cx="398.3" cy="62.2" r="1.8" fill="#1a1a1a" stroke="none" stroke-width="1"/>
<path d="M398.3,53.5 L400.4,57.3 L396.2,57.3 Z" stroke="none" fill="#1a1a1a" stroke-width="1"/>
<path d="M396.4,53.8 L400.2,53.8 L398.3,57.1 Z" stroke="#3a1a6a" fill="#3a1a6a" stroke-width="0.8"/>
<path d="M407.8,55.0 L409.8,57.0 L407.8,59.0 L405.8,57.0 Z" stroke="#5a1a2a" fill="#7a2a3a" stroke-width="0.6"/>
<circle cx="407.8" cy="62.7" r="1.8" fill="#1a1a1a" stroke="none" stroke-width="1"/>
<path d="M407.8,54.0 L409.9,57.8 L405.7,57.8 Z" stroke="none" fill="#1a1a1a" stroke-width="1"/>
<path d="M405.9,54.3 L409.7,54.3 L407.8,57.6 Z" stroke="#3a1a6a" fill="#3a1a6a" stroke-width="0.8"/>
<line x1="437.0" y1="39.8" x2="447.5" y2="39.8" stroke="#e6b860" stroke-width="1.3"/>
<circle cx="442.2" cy="39.8" r="1.4" fill="#222" stroke="none" stroke-width="1"/>
<text x="451.3" y="42.6" font-size="7.8" text-anchor="start" fill="#3a3a3a" stroke="#3a3a3a" stroke-width="0.15" textLength="47.8" lengthAdjust="spacingAndGlyphs">Untransduced</text>
<line x1="437.0" y1="52.8" x2="447.5" y2="52.8" stroke="#222" stroke-width="1.3"/>
<path d="M442.2,51.0 L444.0,54.099999999999994 L440.4,54.099999999999994 Z" stroke="#222" fill="#222" stroke-width="0.8"/>
<text x="451.3" y="55.6" font-size="7.8" text-anchor="start" fill="#3a3a3a" stroke="#3a3a3a" stroke-width="0.15" textLength="16" lengthAdjust="spacingAndGlyphs">NTG</text>
<line x1="437.0" y1="65.7" x2="447.5" y2="65.7" stroke="#3e2458" stroke-width="1.3"/>
<path d="M440.3,64.3 L444.09999999999997,64.3 L442.2,67.5 Z" stroke="#3a1a5a" fill="#5a3a8a" stroke-width="0.7"/>
<text x="451.3" y="68.5" font-size="7.8" text-anchor="start" fill="#3a3a3a" stroke="#3a3a3a" stroke-width="0.15" font-style="italic" textLength="14.6" lengthAdjust="spacingAndGlyphs">Tet2</text>
<text x="466.5" y="65.1" font-size="4.6" text-anchor="start" fill="#3a3a3a" stroke="#3a3a3a" stroke-width="0.15" font-style="italic" textLength="7.6" lengthAdjust="spacingAndGlyphs">−/−</text>
<line x1="437.0" y1="78.8" x2="447.5" y2="78.8" stroke="#7a2438" stroke-width="1.3"/>
<path d="M442.2,76.89999999999999 L444.09999999999997,78.8 L442.2,80.7 L440.3,78.8 Z" stroke="#6a1a30" fill="#8a2a44" stroke-width="0.7"/>
<text x="451.3" y="81.6" font-size="7.8" text-anchor="start" fill="#3a3a3a" stroke="#3a3a3a" stroke-width="0.15" font-style="italic" textLength="19.2" lengthAdjust="spacingAndGlyphs">Trp53</text>
<text x="471.1" y="78.2" font-size="4.6" text-anchor="start" fill="#3a3a3a" stroke="#3a3a3a" stroke-width="0.15" font-style="italic" textLength="7.6" lengthAdjust="spacingAndGlyphs">−/−</text>
<text x="11.0" y="166.5" font-size="11.5" text-anchor="start" fill="#111" font-weight="bold">C</text>
<g transform="translate(48.5,185.4) scale(1.0)"><path d="M-23.5,0.8 C-29,1.4 -35,0.6 -39.5,1.3 C-41.8,1.8 -43.2,3.4 -43.3,5.3" stroke="#a08888" stroke-width="0.9" fill="none" stroke-linecap="round"/><path d="M-24.6,2.2 C-25.4,-4.5 -19.5,-9.4 -12.5,-9.3 C-8,-9.2 -5,-7 -2.8,-3.6 L0.3,-0.6 C0.9,0.4 0.2,1.6 -1.5,2.0 C-7,2.9 -15,3.1 -24.6,2.2 Z" fill="#4b4647"/><ellipse cx="-7.6" cy="-6.0" rx="1.5" ry="2.1" fill="#8c7a7c" transform="rotate(-15 -7.6 -6.0)"/><path d="M-9,2.7 L-7.5,3.3 M-20,2.6 L-18.5,3.3" stroke="#5a5050" stroke-width="0.7"/></g>
<text x="18.2" y="201.4" font-size="7.4" fill="#3a3a3a" font-style="italic" textLength="16" lengthAdjust="spacingAndGlyphs">Crbn</text>
<text x="34.9" y="198.8" font-size="4.8" text-anchor="start" fill="#3a3a3a" stroke="#3a3a3a" stroke-width="0.15" textLength="12.5" lengthAdjust="spacingAndGlyphs">L391V</text>
<text x="33.1" y="210.6" font-size="7.4" text-anchor="middle" fill="#3a3a3a" stroke="#3a3a3a" stroke-width="0.15" font-style="italic" textLength="24.2" lengthAdjust="spacingAndGlyphs">Mx Cre</text>
<text x="33.3" y="219.5" font-size="7.4" text-anchor="middle" fill="#3a3a3a" stroke="#3a3a3a" stroke-width="0.15" font-style="italic" textLength="16.7" lengthAdjust="spacingAndGlyphs">Cas9</text>
<line x1="58.5" y1="183.5" x2="70.0" y2="183.5" stroke="#111" stroke-width="1.0"/>
<path d="M72.5,183.5 L69.5,181.85 L69.5,185.15 Z" stroke="none" fill="#111" stroke-width="1"/>
<line x1="128.8" y1="183.2" x2="140.7" y2="183.2" stroke="#111" stroke-width="1.0"/>
<path d="M143.2,183.2 L140.2,181.54999999999998 L140.2,184.85 Z" stroke="none" fill="#111" stroke-width="1"/>
<line x1="202.3" y1="183.5" x2="213.5" y2="183.5" stroke="#111" stroke-width="1.0"/>
<path d="M216.0,183.5 L213.0,181.85 L213.0,185.15 Z" stroke="none" fill="#111" stroke-width="1"/>
<text x="202.3" y="180.3" font-size="5.5" text-anchor="start" fill="#3a3a3a" stroke="#3a3a3a" stroke-width="0.15" textLength="10.5" lengthAdjust="spacingAndGlyphs">Pool</text>
<text x="102.6" y="159.4" font-size="7.4" text-anchor="middle" fill="#3a3a3a" stroke="#3a3a3a" stroke-width="0.15" textLength="12.8" lengthAdjust="spacingAndGlyphs">Lin-</text>
<line x1="84.0" y1="162.9" x2="120.2" y2="162.9" stroke="#8a8a8a" stroke-width="1.8"/>
<rect x="83.8" y="169.5" width="33.6" height="33.2" fill="#fff" stroke="#c8c8c8" stroke-width="0.6"/>
<line x1="82.5" y1="171.5" x2="84.0" y2="171.5" stroke="#aaa" stroke-width="0.5"/>
<line x1="82.5" y1="177.5" x2="84.0" y2="177.5" stroke="#aaa" stroke-width="0.5"/>
<line x1="82.5" y1="183.5" x2="84.0" y2="183.5" stroke="#aaa" stroke-width="0.5"/>
<line x1="82.5" y1="189.5" x2="84.0" y2="189.5" stroke="#aaa" stroke-width="0.5"/>
<line x1="82.5" y1="195.5" x2="84.0" y2="195.5" stroke="#aaa" stroke-width="0.5"/>
<line x1="82.5" y1="201.5" x2="84.0" y2="201.5" stroke="#aaa" stroke-width="0.5"/>
<text x="89.8" y="174.8" font-size="5.6" text-anchor="start" fill="#333" stroke="#333" stroke-width="0.15" textLength="20" lengthAdjust="spacingAndGlyphs">LSK cells</text>
<g fill="#1a1a1a"><circle cx="94.0" cy="181.4" r="0.5" fill-opacity="0.42"/><circle cx="94.1" cy="180.4" r="0.5" fill-opacity="0.42"/><circle cx="91.3" cy="180.5" r="0.5" fill-opacity="0.42"/><circle cx="99.4" cy="181.3" r="0.5" fill-opacity="0.42"/><circle cx="99.1" cy="181.1" r="0.5" fill-opacity="0.42"/><circle cx="96.6" cy="181.0" r="0.5" fill-opacity="0.42"/><circle cx="88.3" cy="181.8" r="0.5" fill-opacity="0.42"/><circle cx="97.0" cy="181.4" r="0.5" fill-opacity="0.42"/><circle cx="88.2" cy="178.7" r="0.5" fill-opacity="0.42"/><circle cx="91.4" cy="180.2" r="0.5" fill-opacity="0.42"/><circle cx="96.2" cy="180.7" r="0.5" fill-opacity="0.42"/><circle cx="97.1" cy="180.0" r="0.5" fill-opacity="0.42"/><circle cx="96.2" cy="181.3" r="0.5" fill-opacity="0.42"/><circle cx="92.4" cy="182.9" r="0.5" fill-opacity="0.42"/><circle cx="97.2" cy="182.2" r="0.5" fill-opacity="0.42"/><circle cx="92.5" cy="179.9" r="0.5" fill-opacity="0.42"/><circle cx="93.6" cy="180.7" r="0.5" fill-opacity="0.42"/><circle cx="97.5" cy="181.1" r="0.5" fill-opacity="0.42"/><circle cx="93.2" cy="179.7" r="0.5" fill-opacity="0.42"/><circle cx="92.9" cy="182.3" r="0.5" fill-opacity="0.42"/><circle cx="91.8" cy="181.1" r="0.5" fill-opacity="0.42"/><circle cx="96.7" cy="179.0" r="0.5" fill-opacity="0.42"/><circle cx="95.2" cy="182.4" r="0.5" fill-opacity="0.42"/><circle cx="86.9" cy="180.4" r="0.5" fill-opacity="0.42"/><circle cx="94.6" cy="179.8" r="0.5" fill-opacity="0.42"/><circle cx="97.0" cy="180.7" r="0.5" fill-opacity="0.42"/><circle cx="89.1" cy="181.8" r="0.5" fill-opacity="0.42"/><circle cx="97.7" cy="181.9" r="0.5" fill-opacity="0.42"/><circle cx="100.8" cy="181.2" r="0.5" fill-opacity="0.42"/><circle cx="95.5" cy="179.2" r="0.5" fill-opacity="0.42"/><circle cx="97.5" cy="180.1" r="0.5" fill-opacity="0.42"/><circle cx="93.2" cy="179.3" r="0.5" fill-opacity="0.42"/><circle cx="91.1" cy="180.2" r="0.5" fill-opacity="0.42"/><circle cx="100.2" cy="178.4" r="0.5" fill-opacity="0.42"/><circle cx="89.2" cy="181.1" r="0.5" fill-opacity="0.42"/><circle cx="100.8" cy="181.5" r="0.5" fill-opacity="0.42"/><circle cx="87.4" cy="177.8" r="0.5" fill-opacity="0.42"/><circle cx="96.4" cy="179.9" r="0.5" fill-opacity="0.42"/><circle cx="90.5" cy="182.0" r="0.5" fill-opacity="0.42"/><circle cx="99.4" cy="181.0" r="0.5" fill-opacity="0.42"/><circle cx="96.0" cy="181.3" r="0.5" fill-opacity="0.42"/><circle cx="101.4" cy="181.5" r="0.5" fill-opacity="0.42"/><circle cx="97.1" cy="181.5" r="0.5" fill-opacity="0.42"/><circle cx="88.7" cy="182.3" r="0.5" fill-opacity="0.42"/><circle cx="98.8" cy="181.4" r="0.5" fill-opacity="0.42"/><circle cx="87.1" cy="180.0" r="0.5" fill-opacity="0.42"/><circle cx="98.4" cy="178.6" r="0.5" fill-opacity="0.42"/><circle cx="94.3" cy="182.0" r="0.5" fill-opacity="0.42"/><circle cx="89.8" cy="182.7" r="0.5" fill-opacity="0.42"/><circle cx="97.2" cy="180.6" r="0.5" fill-opacity="0.42"/><circle cx="96.3" cy="181.6" r="0.5" fill-opacity="0.42"/><circle cx="95.5" cy="182.2" r="0.5" fill-opacity="0.42"/><circle cx="92.4" cy="180.3" r="0.5" fill-opacity="0.42"/><circle cx="99.2" cy="180.8" r="0.5" fill-opacity="0.42"/><circle cx="91.5" cy="181.9" r="0.5" fill-opacity="0.42"/><circle cx="100.9" cy="180.3" r="0.5" fill-opacity="0.42"/><circle cx="89.5" cy="180.6" r="0.5" fill-opacity="0.42"/><circle cx="94.4" cy="180.4" r="0.5" fill-opacity="0.42"/><circle cx="100.6" cy="179.6" r="0.5" fill-opacity="0.42"/><circle cx="100.0" cy="179.3" r="0.5" fill-opacity="0.42"/><circle cx="91.9" cy="181.6" r="0.5" fill-opacity="0.42"/><circle cx="99.5" cy="181.8" r="0.5" fill-opacity="0.42"/><circle cx="96.4" cy="181.0" r="0.5" fill-opacity="0.42"/><circle cx="95.6" cy="181.5" r="0.5" fill-opacity="0.42"/><circle cx="94.3" cy="181.1" r="0.5" fill-opacity="0.42"/><circle cx="97.3" cy="180.8" r="0.5" fill-opacity="0.42"/><circle cx="98.1" cy="181.5" r="0.5" fill-opacity="0.42"/><circle cx="103.0" cy="181.2" r="0.5" fill-opacity="0.42"/><circle cx="93.3" cy="180.4" r="0.5" fill-opacity="0.42"/><circle cx="94.9" cy="181.9" r="0.5" fill-opacity="0.42"/><circle cx="93.7" cy="181.3" r="0.5" fill-opacity="0.42"/><circle cx="102.3" cy="177.7" r="0.5" fill-opacity="0.42"/><circle cx="90.5" cy="181.1" r="0.5" fill-opacity="0.42"/><circle cx="96.6" cy="181.1" r="0.5" fill-opacity="0.42"/><circle cx="93.3" cy="181.6" r="0.5" fill-opacity="0.42"/><circle cx="96.1" cy="180.2" r="0.5" fill-opacity="0.42"/><circle cx="104.7" cy="181.2" r="0.5" fill-opacity="0.42"/><circle cx="92.8" cy="180.7" r="0.5" fill-opacity="0.42"/><circle cx="94.1" cy="180.7" r="0.5" fill-opacity="0.42"/><circle cx="99.0" cy="179.4" r="0.5" fill-opacity="0.42"/><circle cx="94.7" cy="181.9" r="0.5" fill-opacity="0.42"/><circle cx="98.4" cy="182.6" r="0.5" fill-opacity="0.42"/><circle cx="88.2" cy="180.4" r="0.5" fill-opacity="0.42"/><circle cx="93.6" cy="181.5" r="0.5" fill-opacity="0.42"/><circle cx="99.4" cy="177.6" r="0.5" fill-opacity="0.42"/><circle cx="99.4" cy="179.1" r="0.5" fill-opacity="0.42"/><circle cx="97.7" cy="179.0" r="0.5" fill-opacity="0.42"/><circle cx="95.7" cy="182.2" r="0.5" fill-opacity="0.42"/><circle cx="94.4" cy="181.0" r="0.5" fill-opacity="0.42"/><circle cx="98.2" cy="181.0" r="0.5" fill-opacity="0.42"/><circle cx="94.6" cy="182.6" r="0.5" fill-opacity="0.42"/><circle cx="99.2" cy="180.4" r="0.5" fill-opacity="0.42"/><circle cx="106.0" cy="179.4" r="0.5" fill-opacity="0.42"/><circle cx="98.7" cy="180.5" r="0.5" fill-opacity="0.42"/><circle cx="95.5" cy="181.6" r="0.5" fill-opacity="0.42"/><circle cx="95.9" cy="181.6" r="0.5" fill-opacity="0.42"/><circle cx="88.9" cy="179.0" r="0.5" fill-opacity="0.42"/><circle cx="97.5" cy="179.6" r="0.5" fill-opacity="0.42"/><circle cx="90.9" cy="179.0" r="0.5" fill-opacity="0.42"/><circle cx="100.1" cy="181.7" r="0.5" fill-opacity="0.42"/><circle cx="100.9" cy="179.7" r="0.5" fill-opacity="0.42"/><circle cx="95.0" cy="179.4" r="0.5" fill-opacity="0.42"/><circle cx="98.1" cy="182.7" r="0.5" fill-opacity="0.42"/><circle cx="91.4" cy="182.7" r="0.5" fill-opacity="0.42"/><circle cx="99.0" cy="180.6" r="0.5" fill-opacity="0.42"/><circle cx="87.1" cy="182.5" r="0.5" fill-opacity="0.42"/><circle cx="94.6" cy="180.1" r="0.5" fill-opacity="0.42"/><circle cx="96.6" cy="181.3" r="0.5" fill-opacity="0.42"/><circle cx="101.0" cy="179.6" r="0.5" fill-opacity="0.42"/><circle cx="99.5" cy="182.6" r="0.5" fill-opacity="0.42"/><circle cx="100.8" cy="180.6" r="0.5" fill-opacity="0.42"/><circle cx="92.0" cy="182.0" r="0.5" fill-opacity="0.42"/><circle cx="95.5" cy="180.9" r="0.5" fill-opacity="0.42"/><circle cx="100.7" cy="180.5" r="0.5" fill-opacity="0.42"/><circle cx="85.8" cy="180.3" r="0.5" fill-opacity="0.42"/><circle cx="87.6" cy="181.8" r="0.5" fill-opacity="0.42"/><circle cx="96.3" cy="180.1" r="0.5" fill-opacity="0.42"/><circle cx="95.0" cy="181.8" r="0.5" fill-opacity="0.42"/><circle cx="95.3" cy="182.4" r="0.5" fill-opacity="0.42"/><circle cx="94.8" cy="182.0" r="0.5" fill-opacity="0.42"/><circle cx="101.0" cy="182.7" r="0.5" fill-opacity="0.42"/><circle cx="92.3" cy="181.9" r="0.5" fill-opacity="0.42"/><circle cx="87.5" cy="179.5" r="0.5" fill-opacity="0.42"/><circle cx="87.1" cy="182.1" r="0.5" fill-opacity="0.42"/><circle cx="90.1" cy="180.8" r="0.5" fill-opacity="0.42"/><circle cx="94.2" cy="180.8" r="0.5" fill-opacity="0.42"/><circle cx="92.6" cy="181.1" r="0.5" fill-opacity="0.42"/><circle cx="102.2" cy="180.9" r="0.5" fill-opacity="0.42"/><circle cx="97.1" cy="182.0" r="0.5" fill-opacity="0.42"/><circle cx="94.2" cy="179.3" r="0.5" fill-opacity="0.42"/><circle cx="92.8" cy="182.1" r="0.5" fill-opacity="0.42"/><circle cx="88.4" cy="180.1" r="0.5" fill-opacity="0.42"/><circle cx="99.0" cy="181.8" r="0.5" fill-opacity="0.42"/><circle cx="95.0" cy="181.8" r="0.5" fill-opacity="0.42"/><circle cx="95.7" cy="179.4" r="0.5" fill-opacity="0.42"/><circle cx="88.7" cy="180.0" r="0.5" fill-opacity="0.42"/><circle cx="98.7" cy="180.1" r="0.5" fill-opacity="0.42"/><circle cx="91.4" cy="179.9" r="0.5" fill-opacity="0.42"/><circle cx="88.9" cy="180.7" r="0.5" fill-opacity="0.42"/><circle cx="90.3" cy="181.2" r="0.5" fill-opacity="0.42"/><circle cx="85.6" cy="181.2" r="0.5" fill-opacity="0.42"/><circle cx="92.4" cy="178.5" r="0.5" fill-opacity="0.42"/><circle cx="97.9" cy="180.5" r="0.5" fill-opacity="0.42"/><circle cx="86.1" cy="179.7" r="0.5" fill-opacity="0.42"/><circle cx="96.2" cy="180.2" r="0.5" fill-opacity="0.42"/><circle cx="98.1" cy="181.7" r="0.5" fill-opacity="0.42"/><circle cx="97.7" cy="181.2" r="0.5" fill-opacity="0.42"/><circle cx="100.3" cy="181.6" r="0.5" fill-opacity="0.42"/><circle cx="96.8" cy="178.3" r="0.5" fill-opacity="0.42"/><circle cx="98.6" cy="182.4" r="0.5" fill-opacity="0.42"/><circle cx="93.8" cy="180.2" r="0.5" fill-opacity="0.42"/><circle cx="102.8" cy="178.7" r="0.5" fill-opacity="0.42"/><circle cx="96.9" cy="183.7" r="0.5" fill-opacity="0.42"/><circle cx="91.3" cy="181.6" r="0.5" fill-opacity="0.42"/><circle cx="102.5" cy="180.7" r="0.5" fill-opacity="0.42"/><circle cx="97.2" cy="181.9" r="0.5" fill-opacity="0.42"/><circle cx="91.4" cy="180.7" r="0.5" fill-opacity="0.42"/><circle cx="96.2" cy="181.8" r="0.5" fill-opacity="0.42"/><circle cx="94.9" cy="180.6" r="0.5" fill-opacity="0.42"/><circle cx="90.9" cy="180.4" r="0.5" fill-opacity="0.42"/><circle cx="98.6" cy="180.9" r="0.5" fill-opacity="0.42"/><circle cx="91.6" cy="179.8" r="0.5" fill-opacity="0.42"/><circle cx="105.7" cy="182.2" r="0.5" fill-opacity="0.42"/><circle cx="97.5" cy="177.7" r="0.5" fill-opacity="0.42"/><circle cx="97.5" cy="181.4" r="0.5" fill-opacity="0.42"/><circle cx="101.7" cy="181.3" r="0.5" fill-opacity="0.42"/><circle cx="94.7" cy="181.4" r="0.5" fill-opacity="0.42"/><circle cx="87.2" cy="182.0" r="0.5" fill-opacity="0.42"/><circle cx="96.3" cy="180.0" r="0.5" fill-opacity="0.42"/><circle cx="100.3" cy="183.0" r="0.5" fill-opacity="0.42"/><circle cx="89.4" cy="180.0" r="0.5" fill-opacity="0.42"/><circle cx="96.2" cy="181.0" r="0.5" fill-opacity="0.42"/><circle cx="93.4" cy="179.6" r="0.5" fill-opacity="0.42"/><circle cx="103.5" cy="182.0" r="0.5" fill-opacity="0.42"/><circle cx="90.2" cy="179.2" r="0.5" fill-opacity="0.42"/><circle cx="101.8" cy="182.0" r="0.5" fill-opacity="0.42"/><circle cx="102.3" cy="181.8" r="0.5" fill-opacity="0.42"/><circle cx="91.5" cy="181.1" r="0.5" fill-opacity="0.42"/><circle cx="86.4" cy="179.9" r="0.5" fill-opacity="0.42"/><circle cx="94.8" cy="181.4" r="0.5" fill-opacity="0.42"/><circle cx="92.1" cy="180.7" r="0.5" fill-opacity="0.42"/><circle cx="96.8" cy="181.3" r="0.5" fill-opacity="0.42"/><circle cx="97.6" cy="181.1" r="0.5" fill-opacity="0.42"/><circle cx="93.7" cy="181.7" r="0.5" fill-opacity="0.42"/><circle cx="95.2" cy="179.8" r="0.5" fill-opacity="0.42"/><circle cx="92.5" cy="180.8" r="0.5" fill-opacity="0.42"/><circle cx="94.6" cy="181.0" r="0.5" fill-opacity="0.42"/><circle cx="95.0" cy="181.0" r="0.5" fill-opacity="0.42"/><circle cx="94.5" cy="179.3" r="0.5" fill-opacity="0.42"/><circle cx="96.7" cy="182.1" r="0.5" fill-opacity="0.42"/><circle cx="96.7" cy="180.6" r="0.5" fill-opacity="0.42"/><circle cx="96.8" cy="179.6" r="0.5" fill-opacity="0.42"/><circle cx="87.4" cy="180.9" r="0.5" fill-opacity="0.42"/><circle cx="91.3" cy="181.7" r="0.5" fill-opacity="0.42"/><circle cx="90.7" cy="177.6" r="0.5" fill-opacity="0.42"/><circle cx="90.8" cy="182.7" r="0.5" fill-opacity="0.42"/><circle cx="93.5" cy="179.2" r="0.5" fill-opacity="0.42"/><circle cx="91.9" cy="181.4" r="0.5" fill-opacity="0.42"/><circle cx="97.0" cy="181.0" r="0.5" fill-opacity="0.42"/><circle cx="100.9" cy="181.6" r="0.5" fill-opacity="0.42"/><circle cx="94.9" cy="181.5" r="0.5" fill-opacity="0.42"/><circle cx="101.6" cy="182.0" r="0.5" fill-opacity="0.42"/><circle cx="99.1" cy="179.5" r="0.5" fill-opacity="0.42"/><circle cx="94.4" cy="181.7" r="0.5" fill-opacity="0.42"/><circle cx="93.8" cy="182.1" r="0.5" fill-opacity="0.42"/><circle cx="97.4" cy="181.9" r="0.5" fill-opacity="0.42"/><circle cx="94.2" cy="183.9" r="0.5" fill-opacity="0.42"/><circle cx="100.0" cy="180.5" r="0.5" fill-opacity="0.42"/><circle cx="95.4" cy="183.9" r="0.5" fill-opacity="0.42"/><circle cx="93.6" cy="181.8" r="0.5" fill-opacity="0.42"/><circle cx="98.9" cy="180.8" r="0.5" fill-opacity="0.42"/><circle cx="90.3" cy="181.0" r="0.5" fill-opacity="0.42"/><circle cx="96.4" cy="182.2" r="0.5" fill-opacity="0.42"/><circle cx="98.1" cy="180.8" r="0.5" fill-opacity="0.42"/><circle cx="98.4" cy="181.4" r="0.5" fill-opacity="0.42"/><circle cx="95.8" cy="180.9" r="0.5" fill-opacity="0.42"/><circle cx="94.0" cy="181.6" r="0.5" fill-opacity="0.42"/><circle cx="90.8" cy="180.0" r="0.5" fill-opacity="0.42"/><circle cx="95.0" cy="179.0" r="0.5" fill-opacity="0.42"/><circle cx="93.3" cy="178.4" r="0.5" fill-opacity="0.42"/><circle cx="92.3" cy="181.5" r="0.5" fill-opacity="0.42"/><circle cx="97.3" cy="180.7" r="0.5" fill-opacity="0.42"/><circle cx="94.1" cy="179.1" r="0.5" fill-opacity="0.42"/><circle cx="102.3" cy="181.4" r="0.5" fill-opacity="0.42"/><circle cx="99.4" cy="179.7" r="0.5" fill-opacity="0.42"/><circle cx="94.3" cy="178.6" r="0.5" fill-opacity="0.42"/><circle cx="98.1" cy="181.9" r="0.5" fill-opacity="0.42"/><circle cx="87.4" cy="180.7" r="0.5" fill-opacity="0.42"/><circle cx="97.5" cy="178.7" r="0.5" fill-opacity="0.42"/><circle cx="87.7" cy="179.5" r="0.5" fill-opacity="0.42"/><circle cx="92.5" cy="179.1" r="0.5" fill-opacity="0.42"/><circle cx="95.1" cy="181.1" r="0.5" fill-opacity="0.42"/><circle cx="97.5" cy="181.6" r="0.5" fill-opacity="0.42"/><circle cx="101.0" cy="182.2" r="0.5" fill-opacity="0.42"/><circle cx="89.8" cy="180.2" r="0.5" fill-opacity="0.42"/><circle cx="90.8" cy="179.5" r="0.5" fill-opacity="0.42"/><circle cx="94.7" cy="180.8" r="0.5" fill-opacity="0.42"/><circle cx="97.0" cy="178.9" r="0.5" fill-opacity="0.42"/><circle cx="90.0" cy="180.8" r="0.5" fill-opacity="0.42"/><circle cx="94.2" cy="180.4" r="0.5" fill-opacity="0.42"/><circle cx="94.7" cy="179.9" r="0.5" fill-opacity="0.42"/><circle cx="97.8" cy="181.2" r="0.5" fill-opacity="0.42"/><circle cx="94.6" cy="180.0" r="0.5" fill-opacity="0.42"/><circle cx="94.3" cy="177.5" r="0.5" fill-opacity="0.42"/><circle cx="91.1" cy="180.8" r="0.5" fill-opacity="0.42"/><circle cx="89.0" cy="181.0" r="0.5" fill-opacity="0.42"/><circle cx="95.6" cy="179.1" r="0.5" fill-opacity="0.42"/><circle cx="94.0" cy="180.4" r="0.5" fill-opacity="0.42"/><circle cx="96.8" cy="181.5" r="0.5" fill-opacity="0.42"/><circle cx="94.9" cy="179.8" r="0.5" fill-opacity="0.42"/><circle cx="94.4" cy="180.7" r="0.5" fill-opacity="0.42"/><circle cx="97.9" cy="181.2" r="0.5" fill-opacity="0.42"/><circle cx="92.1" cy="179.2" r="0.5" fill-opacity="0.42"/><circle cx="93.5" cy="179.9" r="0.5" fill-opacity="0.42"/><circle cx="90.6" cy="180.7" r="0.5" fill-opacity="0.42"/><circle cx="93.0" cy="180.9" r="0.5" fill-opacity="0.42"/><circle cx="97.1" cy="180.3" r="0.5" fill-opacity="0.42"/><circle cx="104.3" cy="180.4" r="0.5" fill-opacity="0.42"/><circle cx="99.4" cy="180.9" r="0.5" fill-opacity="0.42"/><circle cx="99.5" cy="177.9" r="0.5" fill-opacity="0.42"/><circle cx="92.0" cy="181.1" r="0.5" fill-opacity="0.42"/><circle cx="97.4" cy="183.6" r="0.5" fill-opacity="0.42"/><circle cx="96.3" cy="182.3" r="0.5" fill-opacity="0.42"/><circle cx="98.1" cy="181.9" r="0.5" fill-opacity="0.42"/><circle cx="97.0" cy="180.6" r="0.5" fill-opacity="0.42"/><circle cx="97.0" cy="179.5" r="0.5" fill-opacity="0.42"/><circle cx="99.7" cy="179.6" r="0.5" fill-opacity="0.42"/><circle cx="96.0" cy="183.3" r="0.5" fill-opacity="0.42"/><circle cx="94.1" cy="180.8" r="0.5" fill-opacity="0.42"/><circle cx="99.7" cy="180.8" r="0.5" fill-opacity="0.42"/><circle cx="91.8" cy="181.1" r="0.5" fill-opacity="0.42"/><circle cx="97.3" cy="181.7" r="0.5" fill-opacity="0.42"/><circle cx="91.9" cy="182.9" r="0.5" fill-opacity="0.42"/><circle cx="101.7" cy="180.8" r="0.5" fill-opacity="0.42"/><circle cx="96.1" cy="180.3" r="0.5" fill-opacity="0.42"/><circle cx="100.7" cy="180.0" r="0.5" fill-opacity="0.42"/><circle cx="97.7" cy="180.2" r="0.5" fill-opacity="0.42"/><circle cx="92.2" cy="181.7" r="0.5" fill-opacity="0.42"/><circle cx="100.3" cy="180.8" r="0.5" fill-opacity="0.42"/><circle cx="92.3" cy="181.8" r="0.5" fill-opacity="0.42"/><circle cx="94.8" cy="181.2" r="0.5" fill-opacity="0.42"/><circle cx="101.1" cy="182.2" r="0.5" fill-opacity="0.42"/><circle cx="92.9" cy="183.5" r="0.5" fill-opacity="0.42"/><circle cx="95.0" cy="181.7" r="0.5" fill-opacity="0.42"/><circle cx="92.4" cy="180.7" r="0.5" fill-opacity="0.42"/><circle cx="88.0" cy="182.9" r="0.5" fill-opacity="0.42"/><circle cx="100.5" cy="179.3" r="0.5" fill-opacity="0.42"/><circle cx="89.0" cy="178.9" r="0.5" fill-opacity="0.42"/><circle cx="99.7" cy="180.2" r="0.5" fill-opacity="0.42"/><circle cx="94.8" cy="180.4" r="0.5" fill-opacity="0.42"/><circle cx="94.5" cy="179.5" r="0.5" fill-opacity="0.42"/><circle cx="95.1" cy="179.1" r="0.5" fill-opacity="0.42"/><circle cx="94.7" cy="181.2" r="0.5" fill-opacity="0.42"/><circle cx="96.9" cy="180.5" r="0.5" fill-opacity="0.42"/><circle cx="91.4" cy="181.0" r="0.5" fill-opacity="0.42"/><circle cx="93.1" cy="182.7" r="0.5" fill-opacity="0.42"/><circle cx="98.1" cy="180.7" r="0.5" fill-opacity="0.42"/><circle cx="93.1" cy="180.0" r="0.5" fill-opacity="0.42"/><circle cx="91.3" cy="180.4" r="0.5" fill-opacity="0.42"/><circle cx="96.2" cy="181.4" r="0.5" fill-opacity="0.42"/><circle cx="97.3" cy="183.3" r="0.5" fill-opacity="0.42"/><circle cx="92.2" cy="180.8" r="0.5" fill-opacity="0.42"/><circle cx="106.2" cy="178.6" r="0.5" fill-opacity="0.42"/><circle cx="92.9" cy="181.0" r="0.5" fill-opacity="0.42"/><circle cx="95.6" cy="181.3" r="0.5" fill-opacity="0.42"/><circle cx="94.0" cy="181.2" r="0.5" fill-opacity="0.42"/><circle cx="95.2" cy="181.7" r="0.5" fill-opacity="0.42"/><circle cx="87.4" cy="179.7" r="0.5" fill-opacity="0.42"/><circle cx="95.0" cy="179.6" r="0.5" fill-opacity="0.42"/><circle cx="90.8" cy="181.6" r="0.5" fill-opacity="0.42"/><circle cx="92.4" cy="181.6" r="0.5" fill-opacity="0.42"/><circle cx="98.0" cy="181.2" r="0.5" fill-opacity="0.42"/><circle cx="97.0" cy="180.7" r="0.5" fill-opacity="0.42"/><circle cx="89.4" cy="180.8" r="0.5" fill-opacity="0.42"/><circle cx="96.8" cy="180.2" r="0.5" fill-opacity="0.42"/><circle cx="94.6" cy="181.7" r="0.5" fill-opacity="0.42"/><circle cx="91.5" cy="181.6" r="0.5" fill-opacity="0.42"/><circle cx="102.5" cy="180.1" r="0.5" fill-opacity="0.42"/><circle cx="95.6" cy="180.6" r="0.5" fill-opacity="0.42"/><circle cx="101.2" cy="181.2" r="0.5" fill-opacity="0.42"/><circle cx="98.6" cy="180.0" r="0.5" fill-opacity="0.42"/><circle cx="94.9" cy="180.8" r="0.5" fill-opacity="0.42"/><circle cx="87.9" cy="182.5" r="0.5" fill-opacity="0.42"/><circle cx="98.6" cy="178.7" r="0.5" fill-opacity="0.42"/><circle cx="98.0" cy="180.6" r="0.5" fill-opacity="0.42"/><circle cx="96.8" cy="181.2" r="0.5" fill-opacity="0.42"/><circle cx="89.0" cy="180.5" r="0.5" fill-opacity="0.42"/><circle cx="101.0" cy="180.1" r="0.5" fill-opacity="0.42"/><circle cx="90.9" cy="179.2" r="0.5" fill-opacity="0.42"/><circle cx="90.1" cy="181.2" r="0.5" fill-opacity="0.42"/><circle cx="101.8" cy="181.3" r="0.5" fill-opacity="0.42"/><circle cx="96.0" cy="183.5" r="0.5" fill-opacity="0.42"/><circle cx="92.9" cy="180.0" r="0.5" fill-opacity="0.42"/><circle cx="97.1" cy="181.5" r="0.5" fill-opacity="0.42"/><circle cx="90.9" cy="179.4" r="0.5" fill-opacity="0.42"/><circle cx="96.2" cy="181.1" r="0.5" fill-opacity="0.42"/><circle cx="89.8" cy="180.6" r="0.5" fill-opacity="0.42"/><circle cx="92.8" cy="181.4" r="0.5" fill-opacity="0.42"/><circle cx="94.5" cy="180.7" r="0.5" fill-opacity="0.42"/><circle cx="93.6" cy="182.1" r="0.5" fill-opacity="0.42"/><circle cx="100.6" cy="180.4" r="0.5" fill-opacity="0.42"/><circle cx="98.4" cy="179.9" r="0.5" fill-opacity="0.42"/><circle cx="95.3" cy="181.7" r="0.5" fill-opacity="0.42"/><circle cx="101.1" cy="180.3" r="0.5" fill-opacity="0.42"/><circle cx="94.7" cy="181.0" r="0.5" fill-opacity="0.42"/><circle cx="89.0" cy="180.8" r="0.5" fill-opacity="0.42"/><circle cx="92.3" cy="181.2" r="0.5" fill-opacity="0.42"/><circle cx="90.5" cy="178.4" r="0.5" fill-opacity="0.42"/><circle cx="95.2" cy="181.1" r="0.5" fill-opacity="0.42"/><circle cx="92.8" cy="181.9" r="0.5" fill-opacity="0.42"/><circle cx="93.9" cy="180.1" r="0.5" fill-opacity="0.42"/><circle cx="96.9" cy="178.9" r="0.5" fill-opacity="0.42"/><circle cx="92.3" cy="180.8" r="0.5" fill-opacity="0.42"/><circle cx="98.4" cy="180.6" r="0.5" fill-opacity="0.42"/><circle cx="96.2" cy="180.0" r="0.5" fill-opacity="0.42"/><circle cx="96.2" cy="182.8" r="0.5" fill-opacity="0.42"/><circle cx="92.3" cy="183.6" r="0.5" fill-opacity="0.42"/><circle cx="92.4" cy="180.8" r="0.5" fill-opacity="0.42"/><circle cx="95.7" cy="182.0" r="0.5" fill-opacity="0.42"/><circle cx="90.1" cy="178.3" r="0.5" fill-opacity="0.42"/><circle cx="97.4" cy="181.8" r="0.5" fill-opacity="0.42"/><circle cx="97.5" cy="184.0" r="0.5" fill-opacity="0.42"/><circle cx="95.8" cy="181.1" r="0.5" fill-opacity="0.42"/><circle cx="98.7" cy="181.2" r="0.5" fill-opacity="0.42"/><circle cx="101.7" cy="179.3" r="0.5" fill-opacity="0.42"/><circle cx="93.5" cy="176.7" r="0.5" fill-opacity="0.42"/><circle cx="98.2" cy="180.4" r="0.5" fill-opacity="0.42"/><circle cx="98.7" cy="183.4" r="0.5" fill-opacity="0.42"/><circle cx="95.0" cy="180.5" r="0.5" fill-opacity="0.42"/><circle cx="93.0" cy="179.8" r="0.5" fill-opacity="0.42"/><circle cx="92.5" cy="181.6" r="0.5" fill-opacity="0.42"/><circle cx="95.1" cy="180.9" r="0.5" fill-opacity="0.42"/><circle cx="94.3" cy="181.9" r="0.5" fill-opacity="0.42"/><circle cx="97.0" cy="180.6" r="0.5" fill-opacity="0.42"/><circle cx="97.7" cy="180.6" r="0.5" fill-opacity="0.42"/><circle cx="90.4" cy="182.5" r="0.5" fill-opacity="0.42"/><circle cx="96.9" cy="179.7" r="0.5" fill-opacity="0.42"/><circle cx="99.3" cy="181.2" r="0.5" fill-opacity="0.42"/><circle cx="88.7" cy="182.7" r="0.5" fill-opacity="0.42"/><circle cx="98.7" cy="186.1" r="0.45" fill-opacity="0.18"/><circle cx="98.0" cy="183.6" r="0.45" fill-opacity="0.18"/><circle cx="89.3" cy="186.3" r="0.45" fill-opacity="0.18"/><circle cx="97.2" cy="183.3" r="0.45" fill-opacity="0.18"/><circle cx="98.8" cy="184.2" r="0.45" fill-opacity="0.18"/><circle cx="100.4" cy="183.1" r="0.45" fill-opacity="0.18"/><circle cx="96.8" cy="178.9" r="0.45" fill-opacity="0.18"/><circle cx="94.9" cy="185.6" r="0.45" fill-opacity="0.18"/><circle cx="103.7" cy="183.1" r="0.45" fill-opacity="0.18"/><circle cx="96.4" cy="187.8" r="0.45" fill-opacity="0.18"/><circle cx="95.4" cy="185.8" r="0.45" fill-opacity="0.18"/><circle cx="105.4" cy="184.1" r="0.45" fill-opacity="0.18"/><circle cx="103.1" cy="182.3" r="0.45" fill-opacity="0.18"/><circle cx="98.0" cy="183.8" r="0.45" fill-opacity="0.18"/><circle cx="97.6" cy="186.7" r="0.45" fill-opacity="0.18"/><circle cx="108.9" cy="182.4" r="0.45" fill-opacity="0.18"/><circle cx="94.1" cy="185.2" r="0.45" fill-opacity="0.18"/><circle cx="91.7" cy="185.2" r="0.45" fill-opacity="0.18"/><circle cx="99.9" cy="183.3" r="0.45" fill-opacity="0.18"/><circle cx="99.7" cy="180.3" r="0.45" fill-opacity="0.18"/><circle cx="100.8" cy="180.3" r="0.45" fill-opacity="0.18"/><circle cx="93.5" cy="182.7" r="0.45" fill-opacity="0.18"/><circle cx="95.0" cy="186.1" r="0.45" fill-opacity="0.18"/><circle cx="97.4" cy="183.0" r="0.45" fill-opacity="0.18"/><circle cx="99.7" cy="187.8" r="0.45" fill-opacity="0.18"/><circle cx="97.0" cy="184.9" r="0.45" fill-opacity="0.18"/><circle cx="103.2" cy="184.6" r="0.45" fill-opacity="0.18"/><circle cx="90.6" cy="190.0" r="0.45" fill-opacity="0.18"/><circle cx="108.0" cy="179.2" r="0.45" fill-opacity="0.18"/><circle cx="96.8" cy="185.0" r="0.45" fill-opacity="0.18"/><circle cx="101.8" cy="185.6" r="0.45" fill-opacity="0.18"/><circle cx="95.6" cy="181.5" r="0.45" fill-opacity="0.18"/><circle cx="97.5" cy="186.5" r="0.45" fill-opacity="0.18"/><circle cx="91.6" cy="181.5" r="0.45" fill-opacity="0.18"/><circle cx="96.9" cy="179.4" r="0.45" fill-opacity="0.18"/><circle cx="95.7" cy="183.0" r="0.45" fill-opacity="0.18"/><circle cx="99.3" cy="182.3" r="0.45" fill-opacity="0.18"/><circle cx="92.6" cy="183.1" r="0.45" fill-opacity="0.18"/><circle cx="96.8" cy="182.4" r="0.45" fill-opacity="0.18"/><circle cx="97.1" cy="185.8" r="0.45" fill-opacity="0.18"/><circle cx="102.9" cy="188.1" r="0.45" fill-opacity="0.18"/><circle cx="93.1" cy="183.0" r="0.45" fill-opacity="0.18"/><circle cx="93.4" cy="183.9" r="0.45" fill-opacity="0.18"/><circle cx="99.6" cy="180.7" r="0.45" fill-opacity="0.18"/><circle cx="99.3" cy="183.9" r="0.45" fill-opacity="0.18"/><circle cx="87.9" cy="184.7" r="0.45" fill-opacity="0.18"/><circle cx="103.0" cy="179.5" r="0.45" fill-opacity="0.18"/><circle cx="101.0" cy="184.5" r="0.45" fill-opacity="0.18"/><circle cx="99.4" cy="185.1" r="0.45" fill-opacity="0.18"/><circle cx="103.5" cy="183.5" r="0.45" fill-opacity="0.18"/><circle cx="101.4" cy="183.0" r="0.45" fill-opacity="0.18"/><circle cx="100.6" cy="182.0" r="0.45" fill-opacity="0.18"/><circle cx="96.5" cy="188.2" r="0.45" fill-opacity="0.18"/><circle cx="99.2" cy="183.6" r="0.45" fill-opacity="0.18"/><circle cx="91.3" cy="182.1" r="0.45" fill-opacity="0.18"/><circle cx="98.0" cy="186.3" r="0.45" fill-opacity="0.18"/><circle cx="99.1" cy="185.3" r="0.45" fill-opacity="0.18"/><circle cx="96.8" cy="187.2" r="0.45" fill-opacity="0.18"/><circle cx="95.0" cy="182.7" r="0.45" fill-opacity="0.18"/><circle cx="101.4" cy="184.2" r="0.45" fill-opacity="0.18"/><circle cx="95.6" cy="182.6" r="0.45" fill-opacity="0.18"/><circle cx="95.7" cy="185.5" r="0.45" fill-opacity="0.18"/><circle cx="98.8" cy="181.1" r="0.45" fill-opacity="0.18"/><circle cx="99.1" cy="184.4" r="0.45" fill-opacity="0.18"/><circle cx="92.0" cy="185.9" r="0.45" fill-opacity="0.18"/><circle cx="95.6" cy="183.2" r="0.45" fill-opacity="0.18"/><circle cx="101.0" cy="187.2" r="0.45" fill-opacity="0.18"/><circle cx="93.6" cy="185.1" r="0.45" fill-opacity="0.18"/><circle cx="92.6" cy="189.6" r="0.45" fill-opacity="0.18"/><circle cx="94.5" cy="186.9" r="0.45" fill-opacity="0.18"/><circle cx="93.8" cy="185.9" r="0.45" fill-opacity="0.18"/><circle cx="108.1" cy="177.9" r="0.45" fill-opacity="0.18"/><circle cx="94.8" cy="185.2" r="0.45" fill-opacity="0.18"/><circle cx="96.5" cy="182.4" r="0.45" fill-opacity="0.18"/><circle cx="107.8" cy="184.2" r="0.45" fill-opacity="0.18"/><circle cx="88.8" cy="186.0" r="0.45" fill-opacity="0.18"/><circle cx="88.4" cy="186.8" r="0.45" fill-opacity="0.18"/><circle cx="94.1" cy="184.3" r="0.45" fill-opacity="0.18"/><circle cx="103.3" cy="184.3" r="0.45" fill-opacity="0.18"/><circle cx="90.0" cy="179.9" r="0.45" fill-opacity="0.18"/><circle cx="102.9" cy="185.8" r="0.45" fill-opacity="0.18"/><circle cx="92.9" cy="186.1" r="0.45" fill-opacity="0.18"/><circle cx="99.5" cy="185.6" r="0.45" fill-opacity="0.18"/><circle cx="85.7" cy="183.3" r="0.45" fill-opacity="0.18"/><circle cx="101.5" cy="185.8" r="0.45" fill-opacity="0.18"/><circle cx="101.4" cy="178.1" r="0.45" fill-opacity="0.18"/><circle cx="97.8" cy="185.2" r="0.45" fill-opacity="0.18"/><circle cx="109.8" cy="181.7" r="0.45" fill-opacity="0.18"/><circle cx="95.4" cy="184.1" r="0.45" fill-opacity="0.18"/><circle cx="101.4" cy="182.9" r="0.45" fill-opacity="0.18"/><circle cx="102.7" cy="182.1" r="0.45" fill-opacity="0.18"/><circle cx="98.3" cy="182.7" r="0.45" fill-opacity="0.18"/><circle cx="97.8" cy="182.3" r="0.45" fill-opacity="0.18"/><circle cx="89.0" cy="186.6" r="0.45" fill-opacity="0.18"/><circle cx="98.5" cy="182.7" r="0.45" fill-opacity="0.18"/><circle cx="98.0" cy="186.4" r="0.45" fill-opacity="0.18"/><circle cx="92.1" cy="183.7" r="0.45" fill-opacity="0.18"/><circle cx="99.7" cy="185.3" r="0.45" fill-opacity="0.18"/><circle cx="95.3" cy="178.9" r="0.45" fill-opacity="0.18"/><circle cx="103.2" cy="184.8" r="0.45" fill-opacity="0.18"/><circle cx="97.1" cy="183.3" r="0.45" fill-opacity="0.18"/><circle cx="98.3" cy="183.0" r="0.45" fill-opacity="0.18"/><circle cx="91.9" cy="182.2" r="0.45" fill-opacity="0.18"/><circle cx="94.0" cy="182.5" r="0.45" fill-opacity="0.18"/><circle cx="91.2" cy="185.5" r="0.45" fill-opacity="0.18"/><circle cx="90.5" cy="185.6" r="0.45" fill-opacity="0.18"/><circle cx="91.9" cy="184.8" r="0.45" fill-opacity="0.18"/><circle cx="103.9" cy="184.5" r="0.45" fill-opacity="0.18"/><circle cx="93.3" cy="184.1" r="0.45" fill-opacity="0.18"/><circle cx="97.7" cy="179.8" r="0.45" fill-opacity="0.18"/><circle cx="94.0" cy="184.4" r="0.45" fill-opacity="0.18"/><circle cx="94.7" cy="184.2" r="0.45" fill-opacity="0.18"/><circle cx="100.7" cy="185.8" r="0.45" fill-opacity="0.18"/><circle cx="101.5" cy="185.4" r="0.45" fill-opacity="0.18"/><circle cx="95.6" cy="184.0" r="0.45" fill-opacity="0.18"/><circle cx="95.6" cy="183.2" r="0.45" fill-opacity="0.18"/><circle cx="96.1" cy="179.9" r="0.45" fill-opacity="0.18"/><circle cx="95.3" cy="183.9" r="0.45" fill-opacity="0.18"/><circle cx="92.1" cy="183.9" r="0.45" fill-opacity="0.18"/><circle cx="99.6" cy="183.6" r="0.45" fill-opacity="0.18"/><circle cx="107.4" cy="177.7" r="0.45" fill-opacity="0.18"/><circle cx="96.0" cy="179.6" r="0.45" fill-opacity="0.18"/><circle cx="101.9" cy="190.4" r="0.45" fill-opacity="0.18"/><circle cx="99.6" cy="183.3" r="0.45" fill-opacity="0.18"/><circle cx="99.8" cy="178.6" r="0.45" fill-opacity="0.18"/><circle cx="101.3" cy="184.9" r="0.45" fill-opacity="0.18"/><circle cx="97.1" cy="182.6" r="0.45" fill-opacity="0.18"/><circle cx="100.2" cy="182.8" r="0.45" fill-opacity="0.18"/><circle cx="98.1" cy="182.8" r="0.45" fill-opacity="0.18"/><circle cx="85.8" cy="183.9" r="0.45" fill-opacity="0.18"/><circle cx="98.0" cy="185.8" r="0.45" fill-opacity="0.18"/><circle cx="92.6" cy="183.9" r="0.45" fill-opacity="0.18"/><circle cx="100.1" cy="184.3" r="0.45" fill-opacity="0.18"/><circle cx="103.2" cy="188.8" r="0.45" fill-opacity="0.18"/><circle cx="92.5" cy="179.4" r="0.45" fill-opacity="0.18"/><circle cx="101.3" cy="187.7" r="0.45" fill-opacity="0.18"/><circle cx="101.6" cy="186.0" r="0.45" fill-opacity="0.18"/><circle cx="93.9" cy="182.3" r="0.45" fill-opacity="0.18"/><circle cx="101.4" cy="181.8" r="0.45" fill-opacity="0.18"/><circle cx="87.9" cy="181.6" r="0.45" fill-opacity="0.18"/><circle cx="109.5" cy="188.6" r="0.45" fill-opacity="0.18"/><circle cx="93.6" cy="182.3" r="0.45" fill-opacity="0.18"/><circle cx="98.2" cy="182.2" r="0.45" fill-opacity="0.18"/><circle cx="103.6" cy="183.8" r="0.45" fill-opacity="0.18"/><circle cx="91.6" cy="187.1" r="0.45" fill-opacity="0.18"/><circle cx="94.1" cy="184.5" r="0.45" fill-opacity="0.18"/><circle cx="96.9" cy="183.2" r="0.45" fill-opacity="0.18"/><circle cx="98.6" cy="182.3" r="0.45" fill-opacity="0.18"/><circle cx="87.8" cy="178.7" r="0.45" fill-opacity="0.18"/><circle cx="90.7" cy="182.2" r="0.45" fill-opacity="0.18"/><circle cx="96.9" cy="184.1" r="0.45" fill-opacity="0.18"/><circle cx="99.8" cy="184.3" r="0.45" fill-opacity="0.18"/><circle cx="93.0" cy="182.3" r="0.45" fill-opacity="0.18"/><circle cx="86.4" cy="183.6" r="0.45" fill-opacity="0.18"/><circle cx="99.4" cy="185.3" r="0.45" fill-opacity="0.18"/><circle cx="96.4" cy="183.6" r="0.45" fill-opacity="0.18"/><circle cx="101.7" cy="184.0" r="0.45" fill-opacity="0.18"/><circle cx="100.7" cy="185.4" r="0.45" fill-opacity="0.18"/><circle cx="111.1" cy="181.6" r="0.45" fill-opacity="0.35"/><circle cx="109.0" cy="179.9" r="0.45" fill-opacity="0.35"/><circle cx="108.4" cy="179.5" r="0.45" fill-opacity="0.35"/><circle cx="114.5" cy="182.1" r="0.45" fill-opacity="0.35"/><circle cx="110.6" cy="180.9" r="0.45" fill-opacity="0.35"/><circle cx="113.6" cy="181.1" r="0.45" fill-opacity="0.35"/><circle cx="113.6" cy="179.0" r="0.45" fill-opacity="0.35"/><circle cx="108.8" cy="180.8" r="0.45" fill-opacity="0.35"/><circle cx="114.2" cy="180.4" r="0.45" fill-opacity="0.35"/><circle cx="108.3" cy="179.9" r="0.45" fill-opacity="0.35"/><circle cx="108.8" cy="179.4" r="0.45" fill-opacity="0.35"/><circle cx="114.4" cy="179.7" r="0.45" fill-opacity="0.35"/><circle cx="110.6" cy="182.5" r="0.45" fill-opacity="0.35"/><circle cx="113.6" cy="180.6" r="0.45" fill-opacity="0.35"/><circle cx="108.9" cy="180.7" r="0.45" fill-opacity="0.35"/><circle cx="114.7" cy="180.9" r="0.45" fill-opacity="0.35"/><circle cx="113.8" cy="180.4" r="0.45" fill-opacity="0.35"/><circle cx="111.8" cy="180.1" r="0.45" fill-opacity="0.35"/><circle cx="111.6" cy="181.6" r="0.45" fill-opacity="0.35"/><circle cx="106.8" cy="180.2" r="0.45" fill-opacity="0.35"/><circle cx="111.1" cy="179.7" r="0.45" fill-opacity="0.35"/><circle cx="109.7" cy="181.1" r="0.45" fill-opacity="0.35"/><circle cx="115.7" cy="180.9" r="0.45" fill-opacity="0.35"/><circle cx="111.3" cy="178.7" r="0.45" fill-opacity="0.35"/><circle cx="115.5" cy="180.4" r="0.45" fill-opacity="0.35"/><circle cx="110.4" cy="179.2" r="0.45" fill-opacity="0.35"/><circle cx="110.4" cy="179.2" r="0.45" fill-opacity="0.35"/><circle cx="110.7" cy="180.8" r="0.45" fill-opacity="0.35"/><circle cx="110.6" cy="180.6" r="0.45" fill-opacity="0.35"/><circle cx="108.3" cy="181.7" r="0.45" fill-opacity="0.35"/><circle cx="108.8" cy="178.5" r="0.45" fill-opacity="0.35"/><circle cx="110.0" cy="179.5" r="0.45" fill-opacity="0.35"/><circle cx="107.9" cy="179.9" r="0.45" fill-opacity="0.35"/><circle cx="111.3" cy="179.1" r="0.45" fill-opacity="0.35"/><circle cx="110.1" cy="181.7" r="0.45" fill-opacity="0.35"/><circle cx="112.3" cy="180.1" r="0.45" fill-opacity="0.35"/><circle cx="110.8" cy="180.2" r="0.45" fill-opacity="0.35"/><circle cx="110.4" cy="181.0" r="0.45" fill-opacity="0.35"/><circle cx="110.3" cy="177.9" r="0.45" fill-opacity="0.35"/><circle cx="110.4" cy="179.4" r="0.45" fill-opacity="0.35"/><circle cx="112.2" cy="179.7" r="0.45" fill-opacity="0.35"/><circle cx="110.9" cy="182.5" r="0.45" fill-opacity="0.35"/><circle cx="107.8" cy="179.2" r="0.45" fill-opacity="0.35"/><circle cx="106.8" cy="177.9" r="0.45" fill-opacity="0.35"/><circle cx="105.6" cy="180.7" r="0.45" fill-opacity="0.35"/><circle cx="108.8" cy="178.4" r="0.45" fill-opacity="0.35"/><circle cx="106.6" cy="180.9" r="0.45" fill-opacity="0.35"/><circle cx="108.5" cy="179.9" r="0.45" fill-opacity="0.35"/><circle cx="111.4" cy="181.7" r="0.45" fill-opacity="0.35"/><circle cx="115.5" cy="181.3" r="0.45" fill-opacity="0.35"/><circle cx="110.9" cy="180.5" r="0.45" fill-opacity="0.35"/><circle cx="115.2" cy="181.7" r="0.45" fill-opacity="0.35"/><circle cx="109.7" cy="180.8" r="0.45" fill-opacity="0.35"/><circle cx="111.2" cy="180.4" r="0.45" fill-opacity="0.35"/><circle cx="109.2" cy="179.0" r="0.45" fill-opacity="0.35"/><circle cx="109.1" cy="178.8" r="0.45" fill-opacity="0.35"/><circle cx="113.7" cy="180.8" r="0.45" fill-opacity="0.35"/><circle cx="107.4" cy="181.7" r="0.45" fill-opacity="0.35"/><circle cx="112.8" cy="178.4" r="0.45" fill-opacity="0.35"/><circle cx="115.3" cy="181.1" r="0.45" fill-opacity="0.35"/><circle cx="113.4" cy="200.2" r="0.4" fill-opacity="0.15"/><circle cx="89.2" cy="189.1" r="0.4" fill-opacity="0.15"/><circle cx="89.4" cy="186.5" r="0.4" fill-opacity="0.15"/><circle cx="111.4" cy="198.2" r="0.4" fill-opacity="0.15"/><circle cx="105.0" cy="198.4" r="0.4" fill-opacity="0.15"/><circle cx="104.9" cy="190.3" r="0.4" fill-opacity="0.15"/><circle cx="89.0" cy="187.5" r="0.4" fill-opacity="0.15"/><circle cx="108.7" cy="189.1" r="0.4" fill-opacity="0.15"/><circle cx="95.6" cy="192.4" r="0.4" fill-opacity="0.15"/><circle cx="86.6" cy="189.9" r="0.4" fill-opacity="0.15"/><circle cx="94.5" cy="196.7" r="0.4" fill-opacity="0.15"/><circle cx="97.0" cy="190.8" r="0.4" fill-opacity="0.15"/><circle cx="114.9" cy="193.6" r="0.4" fill-opacity="0.15"/><circle cx="111.5" cy="195.3" r="0.4" fill-opacity="0.15"/><circle cx="86.9" cy="192.2" r="0.4" fill-opacity="0.15"/><circle cx="99.1" cy="197.6" r="0.4" fill-opacity="0.15"/><circle cx="96.4" cy="196.6" r="0.4" fill-opacity="0.15"/><circle cx="102.1" cy="189.2" r="0.4" fill-opacity="0.15"/><circle cx="111.9" cy="187.4" r="0.4" fill-opacity="0.15"/><circle cx="110.6" cy="188.6" r="0.4" fill-opacity="0.15"/><circle cx="86.0" cy="189.0" r="0.4" fill-opacity="0.15"/><circle cx="108.9" cy="200.7" r="0.4" fill-opacity="0.15"/><circle cx="86.1" cy="193.4" r="0.4" fill-opacity="0.15"/><circle cx="100.7" cy="198.0" r="0.4" fill-opacity="0.15"/><circle cx="91.5" cy="193.4" r="0.4" fill-opacity="0.15"/></g>
<rect x="104.8" y="176.6" width="11.4" height="7.2" fill="none" stroke="#666" stroke-width="0.6"/>
<text x="108.6" y="188.6" font-size="4" text-anchor="start" fill="#444" stroke="#444" stroke-width="0.15">≈</text>
<line x1="85.0" y1="202.2" x2="116.0" y2="202.2" stroke="#999" stroke-width="0.8"/>
<line x1="88.0" y1="202.2" x2="88.0" y2="203.4" stroke="#aaa" stroke-width="0.5"/>
<line x1="95.0" y1="202.2" x2="95.0" y2="203.4" stroke="#aaa" stroke-width="0.5"/>
<line x1="102.0" y1="202.2" x2="102.0" y2="203.4" stroke="#aaa" stroke-width="0.5"/>
<line x1="109.0" y1="202.2" x2="109.0" y2="203.4" stroke="#aaa" stroke-width="0.5"/>
<line x1="116.0" y1="202.2" x2="116.0" y2="203.4" stroke="#aaa" stroke-width="0.5"/>
<line x1="120.2" y1="176.2" x2="120.2" y2="191.4" stroke="#bbb" stroke-width="1.4"/>
<text x="78.4" y="186.6" font-size="6" text-anchor="middle" fill="#3a3a3a" stroke="#3a3a3a" stroke-width="0.15" textLength="16" lengthAdjust="spacingAndGlyphs" transform="rotate(-90 78.4 186.6)">CD117</text>
<text x="98.8" y="211.0" font-size="6" text-anchor="middle" fill="#3a3a3a" stroke="#3a3a3a" stroke-width="0.15" textLength="10.5" lengthAdjust="spacingAndGlyphs">Sca1</text>
<text x="127.4" y="159.6" font-size="7.4" text-anchor="start" fill="#3a3a3a" stroke="#3a3a3a" stroke-width="0.15" textLength="88" lengthAdjust="spacingAndGlyphs">Arrayed lentiviral infection</text>
<line x1="144.6" y1="162.8" x2="197.3" y2="162.8" stroke="#8a8a8a" stroke-width="1.8"/>
<path d="M152.3,179.2 L161.8,192.2 L195.2,180.6 L195.2,184.8 L162.2,198.0 L152.3,184.0 Z" fill="#cfe4e6" stroke="#bcd6d9" stroke-width="0.5"/>
<path d="M152.3,179.2 L179.8,167.4 L195.2,180.6 L161.8,192.2 Z" fill="#e9f3f4" stroke="#c2dadd" stroke-width="0.6"/>
<defs><radialGradient id="well" cx="0.5" cy="0.5" r="0.5"><stop offset="0" stop-color="#f3b7cd"/><stop offset="0.6" stop-color="#ea92b6"/><stop offset="1" stop-color="#e07ca6"/></radialGradient></defs>
<ellipse cx="160.1" cy="179.6" rx="3.1" ry="2.1" fill="url(#well)" transform="rotate(-18 160.1 179.6)"/>
<ellipse cx="162.6" cy="183.2" rx="3.1" ry="2.1" fill="url(#well)" transform="rotate(-18 162.6 183.2)"/>
<ellipse cx="165.2" cy="186.8" rx="3.1" ry="2.1" fill="url(#well)" transform="rotate(-18 165.2 186.8)"/>
<ellipse cx="166.2" cy="177.3" rx="3.1" ry="2.1" fill="url(#well)" transform="rotate(-18 166.2 177.3)"/>
<ellipse cx="169.3" cy="180.9" rx="3.1" ry="2.1" fill="url(#well)" transform="rotate(-18 169.3 180.9)"/>
<ellipse cx="172.3" cy="184.5" rx="3.1" ry="2.1" fill="url(#well)" transform="rotate(-18 172.3 184.5)"/>
<ellipse cx="172.4" cy="174.9" rx="3.1" ry="2.1" fill="url(#well)" transform="rotate(-18 172.4 174.9)"/>
<ellipse cx="175.9" cy="178.5" rx="3.1" ry="2.1" fill="url(#well)" transform="rotate(-18 175.9 178.5)"/>
<ellipse cx="179.4" cy="182.1" rx="3.1" ry="2.1" fill="url(#well)" transform="rotate(-18 179.4 182.1)"/>
<ellipse cx="178.6" cy="172.6" rx="3.1" ry="2.1" fill="url(#well)" transform="rotate(-18 178.6 172.6)"/>
<ellipse cx="182.6" cy="176.2" rx="3.1" ry="2.1" fill="url(#well)" transform="rotate(-18 182.6 176.2)"/>
<ellipse cx="186.5" cy="179.8" rx="3.1" ry="2.1" fill="url(#well)" transform="rotate(-18 186.5 179.8)"/>
<g transform="translate(261.4,184.8) scale(1.0)"><path d="M-23.5,0.8 C-29,1.4 -35,0.6 -39.5,1.3 C-41.8,1.8 -43.2,3.4 -43.3,5.3" stroke="#a08888" stroke-width="0.9" fill="none" stroke-linecap="round"/><path d="M-24.6,2.2 C-25.4,-4.5 -19.5,-9.4 -12.5,-9.3 C-8,-9.2 -5,-7 -2.8,-3.6 L0.3,-0.6 C0.9,0.4 0.2,1.6 -1.5,2.0 C-7,2.9 -15,3.1 -24.6,2.2 Z" fill="#4b4647"/><ellipse cx="-7.6" cy="-6.0" rx="1.5" ry="2.1" fill="#8c7a7c" transform="rotate(-15 -7.6 -6.0)"/><path d="M-9,2.7 L-7.5,3.3 M-20,2.6 L-18.5,3.3" stroke="#5a5050" stroke-width="0.7"/></g>
<text x="245.2" y="200.3" font-size="7.5" text-anchor="middle" fill="#3a3a3a" stroke="#3a3a3a" stroke-width="0.15" textLength="23.8" lengthAdjust="spacingAndGlyphs">Bl6.SJL</text>
<path d="M259.8,159.4 L255.3,165.2 L257.4,165.0 L251.3,172.8 L254.3,166.9 L252.3,167.1 L256.6,160.4 Z" fill="#f29420"/>
<circle cx="265.3" cy="159.7" r="4.7" fill="#f2d233" stroke="#a08a10" stroke-width="0.4"/>
<path d="M265.85,158.75 L267.25,156.32 A3.9,3.9 0 0 0 263.35,156.32 L264.75,158.75 Z" stroke="none" fill="#1a1a1a" stroke-width="1"/>
<path d="M264.20,159.70 L261.40,159.70 A3.9,3.9 0 0 0 263.35,163.08 L264.75,160.65 Z" stroke="none" fill="#1a1a1a" stroke-width="1"/>
<path d="M265.85,160.65 L267.25,163.08 A3.9,3.9 0 0 0 269.20,159.70 L266.40,159.70 Z" stroke="none" fill="#1a1a1a" stroke-width="1"/>
<circle cx="265.3" cy="159.7" r="0.7" fill="#1a1a1a" stroke="none" stroke-width="1"/>
<rect x="123.1" y="207.8" width="105.4" height="13.5" fill="#bbbedf" stroke="none" stroke-width="1"/>
<rect x="123.1" y="221.3" width="105.4" height="13.0" fill="#e2e3f1" stroke="none" stroke-width="1"/>
<rect x="123.1" y="234.3" width="105.4" height="13.0" fill="#bbbedf" stroke="none" stroke-width="1"/>
<line x1="123.1" y1="221.3" x2="228.5" y2="221.3" stroke="#2e2e3e" stroke-width="1.2"/>
<line x1="123.1" y1="234.3" x2="228.5" y2="234.3" stroke="#2e2e3e" stroke-width="1.2"/>
<line x1="162.3" y1="207.8" x2="162.3" y2="247.3" stroke="#2e2e3e" stroke-width="1.2"/>
<line x1="197.7" y1="207.8" x2="197.7" y2="247.3" stroke="#2e2e3e" stroke-width="1.2"/>
<rect x="123.1" y="207.8" width="105.4" height="39.5" fill="none" stroke="#2e2e3e" stroke-width="1.4"/>
<text x="142.7" y="217.2" font-size="7.4" text-anchor="middle" fill="#3a3a4a" stroke="#3a3a4a" stroke-width="0.15" textLength="16" lengthAdjust="spacingAndGlyphs">NTG</text>
<text x="180.0" y="217.2" font-size="7.4" text-anchor="middle" fill="#3a3a4a" stroke="#3a3a4a" stroke-width="0.15" font-style="italic" textLength="16.5" lengthAdjust="spacingAndGlyphs">Actb</text>
<text x="213.1" y="217.2" font-size="7.4" text-anchor="middle" fill="#3a3a4a" stroke="#3a3a4a" stroke-width="0.15" font-style="italic" textLength="18" lengthAdjust="spacingAndGlyphs">Asxl1</text>
<text x="142.7" y="230.5" font-size="7.4" text-anchor="middle" fill="#3a3a4a" stroke="#3a3a4a" stroke-width="0.15" font-style="italic" textLength="15" lengthAdjust="spacingAndGlyphs">Tet2</text>
<text x="180.0" y="230.5" font-size="7.4" text-anchor="middle" fill="#3a3a4a" stroke="#3a3a4a" stroke-width="0.15" font-style="italic" textLength="26" lengthAdjust="spacingAndGlyphs">Dnmt3a</text>
<text x="213.1" y="230.5" font-size="7.4" text-anchor="middle" fill="#3a3a4a" stroke="#3a3a4a" stroke-width="0.15" font-style="italic" textLength="16.5" lengthAdjust="spacingAndGlyphs">Ezh2</text>
<text x="142.7" y="243.5" font-size="7.4" text-anchor="middle" fill="#3a3a4a" stroke="#3a3a4a" stroke-width="0.15" font-style="italic" textLength="23" lengthAdjust="spacingAndGlyphs">Ppm1d</text>
<text x="180.0" y="243.5" font-size="7.4" text-anchor="middle" fill="#3a3a4a" stroke="#3a3a4a" stroke-width="0.15" font-style="italic" textLength="20" lengthAdjust="spacingAndGlyphs">Trp53</text>
<defs><clipPath id="arrclip"><path d="M3.4,265.4 L200.0,265.4 L200.0,258.2 L215.8,273.3 L200.0,288.9 L200.0,281.3 L3.4,281.3 Z"/></clipPath><linearGradient id="headg" x1="0" y1="0" x2="1" y2="0"><stop offset="0" stop-color="#f6d6d0"/><stop offset="1" stop-color="#f9e2de"/></linearGradient></defs>
<path d="M3.4,265.4 L200.0,265.4 L200.0,258.2 L215.8,273.3 L200.0,288.9 L200.0,281.3 L3.4,281.3 Z" fill="#fcf1ef"/>
<rect x="3.4" y="265.4" width="197" height="15.9" fill="#f6d6d0"/>
<rect x="200" y="266.5" width="16" height="13.6" fill="url(#headg)" clip-path="url(#arrclip)"/>
<path d="M3.4,265.4 L200.0,265.4 L200.0,258.2 L215.8,273.3 L200.0,288.9 L200.0,281.3 L3.4,281.3 Z" fill="none" stroke="#4e3a3a" stroke-width="1.2" stroke-linejoin="miter"/>
<line x1="74.2" y1="265.4" x2="74.2" y2="281.3" stroke="#4e3a3a" stroke-width="1.2"/>
<text x="39.0" y="275.9" font-size="7.3" text-anchor="middle" fill="#111" font-weight="bold" textLength="44.5" lengthAdjust="spacingAndGlyphs" stroke="#111" stroke-width="0.2">Engraftment</text>
<text x="102.7" y="275.7" font-size="7.3" text-anchor="start" fill="#111" font-weight="bold" textLength="84.3" lengthAdjust="spacingAndGlyphs" stroke="#111" stroke-width="0.2">Lenalidomide treatment</text>
<text x="144.9" y="260.0" font-size="7.4" text-anchor="middle" fill="#3a3a3a" stroke="#3a3a3a" stroke-width="0.15" textLength="26" lengthAdjust="spacingAndGlyphs">35 days</text>
<text x="38.9" y="293.8" font-size="7.4" text-anchor="middle" fill="#3a3a3a" stroke="#3a3a3a" stroke-width="0.15" textLength="27" lengthAdjust="spacingAndGlyphs">8 weeks</text>
<text x="145.2" y="293.3" font-size="7.4" text-anchor="middle" fill="#3a3a3a" stroke="#3a3a3a" stroke-width="0.15" textLength="60" lengthAdjust="spacingAndGlyphs">50 mg/kg PO BID</text>
<text x="144.8" y="302.9" font-size="7.4" text-anchor="middle" fill="#3a3a3a" stroke="#3a3a3a" stroke-width="0.15" textLength="32" lengthAdjust="spacingAndGlyphs">vs Vehicle</text>
<line x1="74.0" y1="282.5" x2="74.0" y2="292.0" stroke="#222" stroke-width="1.0" stroke-dasharray="1.3,1.1"/>
<path d="M71.2,290.6 L77.0,290.6 L74.1,299.4 Z" stroke="none" fill="#111" stroke-width="1"/>
<text x="74.2" y="308.5" font-size="7.4" text-anchor="middle" fill="#3a3a3a" stroke="#3a3a3a" stroke-width="0.15" textLength="20" lengthAdjust="spacingAndGlyphs">Pre-tx</text>
<text x="74.2" y="317.7" font-size="7.4" text-anchor="middle" fill="#3a3a3a" stroke="#3a3a3a" stroke-width="0.15" textLength="9.5" lengthAdjust="spacingAndGlyphs">PB</text>
<text x="248.6" y="266.6" font-size="7.4" text-anchor="middle" fill="#3a3a3a" stroke="#3a3a3a" stroke-width="0.15" textLength="12" lengthAdjust="spacingAndGlyphs">BM</text>
<text x="248.6" y="275.4" font-size="7.4" text-anchor="middle" fill="#3a3a3a" stroke="#3a3a3a" stroke-width="0.15" textLength="9.5" lengthAdjust="spacingAndGlyphs">PB</text>
<text x="248.6" y="284.6" font-size="7.4" text-anchor="middle" fill="#3a3a3a" stroke="#3a3a3a" stroke-width="0.15" textLength="58" lengthAdjust="spacingAndGlyphs">Sequence guides</text>
<text x="300.2" y="166.0" font-size="11.5" text-anchor="start" fill="#111" font-weight="bold">D</text>
<text x="423.8" y="160.8" font-size="7.2" text-anchor="middle" fill="#3a3a3a" stroke="#3a3a3a" stroke-width="0.15" textLength="56.5" lengthAdjust="spacingAndGlyphs">Peripheral blood</text>
<line x1="325.9" y1="171.0" x2="325.9" y2="255.8" stroke="#2a2a2a" stroke-width="1.3"/>
<line x1="322.9" y1="177.9" x2="325.9" y2="177.9" stroke="#2a2a2a" stroke-width="1.1"/>
<text x="320.3" y="180.8" font-size="8" text-anchor="end" fill="#3a3a3a" stroke="#3a3a3a" stroke-width="0.15" textLength="8.5" lengthAdjust="spacingAndGlyphs">60</text>
<line x1="322.9" y1="194.7" x2="325.9" y2="194.7" stroke="#2a2a2a" stroke-width="1.1"/>
<text x="320.3" y="197.5" font-size="8" text-anchor="end" fill="#3a3a3a" stroke="#3a3a3a" stroke-width="0.15" textLength="8.5" lengthAdjust="spacingAndGlyphs">40</text>
<line x1="322.9" y1="211.4" x2="325.9" y2="211.4" stroke="#2a2a2a" stroke-width="1.1"/>
<text x="320.3" y="214.2" font-size="8" text-anchor="end" fill="#3a3a3a" stroke="#3a3a3a" stroke-width="0.15" textLength="8.5" lengthAdjust="spacingAndGlyphs">20</text>
<line x1="322.9" y1="228.2" x2="325.9" y2="228.2" stroke="#2a2a2a" stroke-width="1.1"/>
<text x="320.3" y="231.0" font-size="8" text-anchor="end" fill="#3a3a3a" stroke="#3a3a3a" stroke-width="0.15" textLength="4" lengthAdjust="spacingAndGlyphs">0</text>
<line x1="322.9" y1="244.9" x2="325.9" y2="244.9" stroke="#2a2a2a" stroke-width="1.1"/>
<text x="320.3" y="247.8" font-size="8" text-anchor="end" fill="#3a3a3a" stroke="#3a3a3a" stroke-width="0.15" textLength="12.5" lengthAdjust="spacingAndGlyphs">−20</text>
<text x="304.6" y="212.7" font-size="6.5" text-anchor="middle" fill="#3a3a3a" stroke="#3a3a3a" stroke-width="0.15" textLength="83" lengthAdjust="spacingAndGlyphs" transform="rotate(-90 304.6 212.7)">Change in sgRNA frequency (%)</text>
<line x1="327.5" y1="228.2" x2="338.5" y2="228.2" stroke="#333" stroke-width="1.0" stroke-dasharray="1.4,1.2"/>
<line x1="338.5" y1="228.2" x2="508.5" y2="228.2" stroke="#222" stroke-width="1.2"/>
<line x1="338.7" y1="266.1" x2="507.5" y2="266.1" stroke="#2a2a2a" stroke-width="1.3"/>
<line x1="344.5" y1="266.1" x2="344.5" y2="269.2" stroke="#2a2a2a" stroke-width="1.1"/>
<line x1="355.0" y1="266.1" x2="355.0" y2="269.2" stroke="#2a2a2a" stroke-width="1.1"/>
<line x1="365.5" y1="266.1" x2="365.5" y2="269.2" stroke="#2a2a2a" stroke-width="1.1"/>
<line x1="376.1" y1="266.1" x2="376.1" y2="269.2" stroke="#2a2a2a" stroke-width="1.1"/>
<line x1="386.6" y1="266.1" x2="386.6" y2="269.2" stroke="#2a2a2a" stroke-width="1.1"/>
<line x1="397.1" y1="266.1" x2="397.1" y2="269.2" stroke="#2a2a2a" stroke-width="1.1"/>
<line x1="407.6" y1="266.1" x2="407.6" y2="269.2" stroke="#2a2a2a" stroke-width="1.1"/>
<line x1="418.1" y1="266.1" x2="418.1" y2="269.2" stroke="#2a2a2a" stroke-width="1.1"/>
<line x1="428.7" y1="266.1" x2="428.7" y2="269.2" stroke="#2a2a2a" stroke-width="1.1"/>
<line x1="439.2" y1="266.1" x2="439.2" y2="269.2" stroke="#2a2a2a" stroke-width="1.1"/>
<line x1="449.7" y1="266.1" x2="449.7" y2="269.2" stroke="#2a2a2a" stroke-width="1.1"/>
<line x1="460.2" y1="266.1" x2="460.2" y2="269.2" stroke="#2a2a2a" stroke-width="1.1"/>
<line x1="470.7" y1="266.1" x2="470.7" y2="269.2" stroke="#2a2a2a" stroke-width="1.1"/>
<line x1="481.3" y1="266.1" x2="481.3" y2="269.2" stroke="#2a2a2a" stroke-width="1.1"/>
<line x1="491.8" y1="266.1" x2="491.8" y2="269.2" stroke="#2a2a2a" stroke-width="1.1"/>
<line x1="502.3" y1="266.1" x2="502.3" y2="269.2" stroke="#2a2a2a" stroke-width="1.1"/>
<text x="352.5" y="273.8" font-size="8" text-anchor="end" fill="#3a3a3a" stroke="#3a3a3a" stroke-width="0.15" textLength="15.75" lengthAdjust="spacingAndGlyphs" transform="rotate(-45 352.5 273.8)">NTG</text>
<text x="373.5" y="273.8" font-size="8" text-anchor="end" fill="#3a3a3a" stroke="#3a3a3a" stroke-width="0.15" font-style="italic" textLength="16.8" lengthAdjust="spacingAndGlyphs" transform="rotate(-45 373.5 273.8)">Actb</text>
<text x="394.6" y="273.8" font-size="8" text-anchor="end" fill="#3a3a3a" stroke="#3a3a3a" stroke-width="0.15" font-style="italic" textLength="17.85" lengthAdjust="spacingAndGlyphs" transform="rotate(-45 394.6 273.8)">Asxl1</text>
<text x="415.6" y="273.8" font-size="8" text-anchor="end" fill="#3a3a3a" stroke="#3a3a3a" stroke-width="0.15" font-style="italic" textLength="25.200000000000003" lengthAdjust="spacingAndGlyphs" transform="rotate(-45 415.6 273.8)">Dnmt3a</text>
<text x="436.7" y="273.8" font-size="8" text-anchor="end" fill="#3a3a3a" stroke="#3a3a3a" stroke-width="0.15" font-style="italic" textLength="16.8" lengthAdjust="spacingAndGlyphs" transform="rotate(-45 436.7 273.8)">Ezh2</text>
<text x="457.7" y="273.8" font-size="8" text-anchor="end" fill="#3a3a3a" stroke="#3a3a3a" stroke-width="0.15" font-style="italic" textLength="23.1" lengthAdjust="spacingAndGlyphs" transform="rotate(-45 457.7 273.8)">Ppm1d</text>
<text x="478.7" y="273.8" font-size="8" text-anchor="end" fill="#3a3a3a" stroke="#3a3a3a" stroke-width="0.15" font-style="italic" textLength="21.0" lengthAdjust="spacingAndGlyphs" transform="rotate(-45 478.7 273.8)">Trp53</text>
<text x="499.8" y="273.8" font-size="8" text-anchor="end" fill="#3a3a3a" stroke="#3a3a3a" stroke-width="0.15" font-style="italic" textLength="14.700000000000001" lengthAdjust="spacingAndGlyphs" transform="rotate(-45 499.8 273.8)">Tet2</text>
<rect x="330.4" y="179.3" width="11.0" height="5.9" fill="#f1f9f0" stroke="#79c775" stroke-width="1.1"/>
<rect x="330.4" y="193.0" width="11.0" height="6.2" fill="#eef2f8" stroke="#4d6d9c" stroke-width="1.1"/>
<text x="344.7" y="184.4" font-size="7.2" text-anchor="start" fill="#3a3a3a" stroke="#3a3a3a" stroke-width="0.15" textLength="22.6" lengthAdjust="spacingAndGlyphs">DMSO</text>
<text x="344.7" y="198.3" font-size="7.2" text-anchor="start" fill="#3a3a3a" stroke="#3a3a3a" stroke-width="0.15" textLength="45.7" lengthAdjust="spacingAndGlyphs">Lenalidomide</text>
<rect x="342.0" y="228.2" width="5.0" height="1.7" fill="#4bb749" stroke="#4bb749" stroke-width="1.1"/>
<line x1="344.5" y1="229.9" x2="344.5" y2="231.5" stroke="#4bb749" stroke-width="1.0"/>
<line x1="343.0" y1="231.5" x2="346.0" y2="231.5" stroke="#4bb749" stroke-width="1.0"/>
<circle cx="342.9" cy="228.2" r="1.45" fill="#4bb749" stroke="none" stroke-width="1"/>
<circle cx="346.1" cy="229.0" r="1.45" fill="#4bb749" stroke="none" stroke-width="1"/>
<circle cx="344.5" cy="229.9" r="1.45" fill="#4bb749" stroke="none" stroke-width="1"/>
<circle cx="343.5" cy="230.7" r="1.45" fill="#4bb749" stroke="none" stroke-width="1"/>
<circle cx="345.5" cy="229.0" r="1.45" fill="#4bb749" stroke="none" stroke-width="1"/>
<circle cx="345.0" cy="229.9" r="1.45" fill="#4bb749" stroke="none" stroke-width="1"/>
<rect x="352.5" y="228.2" width="5.0" height="4.9" fill="#1c4b89" stroke="#1c4b89" stroke-width="1.1"/>
<line x1="355.0" y1="233.1" x2="355.0" y2="238.7" stroke="#1c4b89" stroke-width="1.0"/>
<line x1="353.5" y1="238.7" x2="356.5" y2="238.7" stroke="#1c4b89" stroke-width="1.0"/>
<circle cx="353.4" cy="236.6" r="1.45" fill="#1c4b89" stroke="none" stroke-width="1"/>
<circle cx="356.6" cy="244.1" r="1.45" fill="#1c4b89" stroke="none" stroke-width="1"/>
<circle cx="355.0" cy="231.5" r="1.45" fill="#1c4b89" stroke="none" stroke-width="1"/>
<rect x="363.0" y="228.2" width="5.0" height="3.3" fill="#4bb749" stroke="#4bb749" stroke-width="1.1"/>
<line x1="365.5" y1="231.5" x2="365.5" y2="236.6" stroke="#4bb749" stroke-width="1.0"/>
<line x1="364.0" y1="236.6" x2="367.0" y2="236.6" stroke="#4bb749" stroke-width="1.0"/>
<circle cx="363.9" cy="216.5" r="1.45" fill="#4bb749" stroke="none" stroke-width="1"/>
<circle cx="367.1" cy="236.6" r="1.45" fill="#4bb749" stroke="none" stroke-width="1"/>
<circle cx="365.5" cy="239.1" r="1.45" fill="#4bb749" stroke="none" stroke-width="1"/>
<circle cx="364.5" cy="229.9" r="1.45" fill="#4bb749" stroke="none" stroke-width="1"/>
<circle cx="366.5" cy="231.5" r="1.45" fill="#4bb749" stroke="none" stroke-width="1"/>
<rect x="373.6" y="228.2" width="5.0" height="4.6" fill="#1c4b89" stroke="#1c4b89" stroke-width="1.1"/>
<line x1="376.1" y1="232.8" x2="376.1" y2="237.0" stroke="#1c4b89" stroke-width="1.0"/>
<line x1="374.6" y1="237.0" x2="377.6" y2="237.0" stroke="#1c4b89" stroke-width="1.0"/>
<circle cx="374.5" cy="240.8" r="1.45" fill="#1c4b89" stroke="none" stroke-width="1"/>
<circle cx="377.7" cy="230.7" r="1.45" fill="#1c4b89" stroke="none" stroke-width="1"/>
<circle cx="376.1" cy="232.4" r="1.45" fill="#1c4b89" stroke="none" stroke-width="1"/>
<rect x="384.1" y="228.2" width="5.0" height="0.8" fill="#4bb749" stroke="#4bb749" stroke-width="1.1"/>
<line x1="386.6" y1="229.0" x2="386.6" y2="229.9" stroke="#4bb749" stroke-width="1.0"/>
<line x1="385.1" y1="229.9" x2="388.1" y2="229.9" stroke="#4bb749" stroke-width="1.0"/>
<circle cx="385.0" cy="228.2" r="1.45" fill="#4bb749" stroke="none" stroke-width="1"/>
<circle cx="388.2" cy="229.9" r="1.45" fill="#4bb749" stroke="none" stroke-width="1"/>
<circle cx="386.6" cy="229.0" r="1.45" fill="#4bb749" stroke="none" stroke-width="1"/>
<circle cx="385.6" cy="229.0" r="1.45" fill="#4bb749" stroke="none" stroke-width="1"/>
<rect x="394.6" y="228.2" width="5.0" height="2.5" fill="#1c4b89" stroke="#1c4b89" stroke-width="1.1"/>
<line x1="397.1" y1="230.7" x2="397.1" y2="232.4" stroke="#1c4b89" stroke-width="1.0"/>
<line x1="395.6" y1="232.4" x2="398.6" y2="232.4" stroke="#1c4b89" stroke-width="1.0"/>
<circle cx="395.5" cy="229.9" r="1.45" fill="#1c4b89" stroke="none" stroke-width="1"/>
<circle cx="398.7" cy="232.4" r="1.45" fill="#1c4b89" stroke="none" stroke-width="1"/>
<circle cx="397.1" cy="230.7" r="1.45" fill="#1c4b89" stroke="none" stroke-width="1"/>
<rect x="405.1" y="224.8" width="5.0" height="3.3" fill="#4bb749" stroke="#4bb749" stroke-width="1.1"/>
<line x1="407.6" y1="224.8" x2="407.6" y2="219.8" stroke="#4bb749" stroke-width="1.0"/>
<line x1="406.1" y1="219.8" x2="409.1" y2="219.8" stroke="#4bb749" stroke-width="1.0"/>
<circle cx="406.0" cy="215.6" r="1.45" fill="#4bb749" stroke="none" stroke-width="1"/>
<circle cx="409.2" cy="224.0" r="1.45" fill="#4bb749" stroke="none" stroke-width="1"/>
<circle cx="407.6" cy="225.7" r="1.45" fill="#4bb749" stroke="none" stroke-width="1"/>
<circle cx="406.6" cy="227.4" r="1.45" fill="#4bb749" stroke="none" stroke-width="1"/>
<circle cx="408.6" cy="228.2" r="1.45" fill="#4bb749" stroke="none" stroke-width="1"/>
<circle cx="408.1" cy="226.5" r="1.45" fill="#4bb749" stroke="none" stroke-width="1"/>
<rect x="415.6" y="228.2" width="5.0" height="0.8" fill="#1c4b89" stroke="#1c4b89" stroke-width="1.1"/>
<line x1="418.1" y1="229.0" x2="418.1" y2="215.0" stroke="#1c4b89" stroke-width="1.0"/>
<line x1="416.6" y1="215.0" x2="419.6" y2="215.0" stroke="#1c4b89" stroke-width="1.0"/>
<circle cx="416.5" cy="204.5" r="1.45" fill="#1c4b89" stroke="none" stroke-width="1"/>
<circle cx="419.7" cy="229.9" r="1.45" fill="#1c4b89" stroke="none" stroke-width="1"/>
<circle cx="418.1" cy="231.5" r="1.45" fill="#1c4b89" stroke="none" stroke-width="1"/>
<circle cx="417.1" cy="230.7" r="1.45" fill="#1c4b89" stroke="none" stroke-width="1"/>
<line x1="425.7" y1="228.2" x2="431.7" y2="228.2" stroke="#4bb749" stroke-width="1.5"/>
<line x1="428.7" y1="228.2" x2="428.7" y2="226.5" stroke="#4bb749" stroke-width="1.0"/>
<line x1="427.2" y1="226.5" x2="430.2" y2="226.5" stroke="#4bb749" stroke-width="1.0"/>
<circle cx="427.1" cy="225.7" r="1.45" fill="#4bb749" stroke="none" stroke-width="1"/>
<circle cx="430.3" cy="228.2" r="1.45" fill="#4bb749" stroke="none" stroke-width="1"/>
<circle cx="428.7" cy="229.9" r="1.45" fill="#4bb749" stroke="none" stroke-width="1"/>
<circle cx="427.7" cy="231.5" r="1.45" fill="#4bb749" stroke="none" stroke-width="1"/>
<circle cx="429.7" cy="227.4" r="1.45" fill="#4bb749" stroke="none" stroke-width="1"/>
<rect x="436.7" y="228.2" width="5.0" height="0.8" fill="#1c4b89" stroke="#1c4b89" stroke-width="1.1"/>
<line x1="439.2" y1="229.0" x2="439.2" y2="229.9" stroke="#1c4b89" stroke-width="1.0"/>
<line x1="437.7" y1="229.9" x2="440.7" y2="229.9" stroke="#1c4b89" stroke-width="1.0"/>
<circle cx="437.6" cy="228.2" r="1.45" fill="#1c4b89" stroke="none" stroke-width="1"/>
<circle cx="440.8" cy="229.0" r="1.45" fill="#1c4b89" stroke="none" stroke-width="1"/>
<circle cx="439.2" cy="229.0" r="1.45" fill="#1c4b89" stroke="none" stroke-width="1"/>
<rect x="447.2" y="228.2" width="5.0" height="0.8" fill="#4bb749" stroke="#4bb749" stroke-width="1.1"/>
<line x1="449.7" y1="229.0" x2="449.7" y2="229.9" stroke="#4bb749" stroke-width="1.0"/>
<line x1="448.2" y1="229.9" x2="451.2" y2="229.9" stroke="#4bb749" stroke-width="1.0"/>
<circle cx="448.1" cy="228.2" r="1.45" fill="#4bb749" stroke="none" stroke-width="1"/>
<circle cx="451.3" cy="229.0" r="1.45" fill="#4bb749" stroke="none" stroke-width="1"/>
<circle cx="449.7" cy="229.0" r="1.45" fill="#4bb749" stroke="none" stroke-width="1"/>
<rect x="457.7" y="228.2" width="5.0" height="2.5" fill="#1c4b89" stroke="#1c4b89" stroke-width="1.1"/>
<line x1="460.2" y1="230.7" x2="460.2" y2="233.2" stroke="#1c4b89" stroke-width="1.0"/>
<line x1="458.7" y1="233.2" x2="461.7" y2="233.2" stroke="#1c4b89" stroke-width="1.0"/>
<circle cx="458.6" cy="231.5" r="1.45" fill="#1c4b89" stroke="none" stroke-width="1"/>
<circle cx="461.8" cy="234.1" r="1.45" fill="#1c4b89" stroke="none" stroke-width="1"/>
<circle cx="460.2" cy="235.7" r="1.45" fill="#1c4b89" stroke="none" stroke-width="1"/>
<circle cx="459.2" cy="229.9" r="1.45" fill="#1c4b89" stroke="none" stroke-width="1"/>
<rect x="468.2" y="223.2" width="5.0" height="5.0" fill="#fff" stroke="#4bb749" stroke-width="1.1"/>
<line x1="470.7" y1="223.2" x2="470.7" y2="215.6" stroke="#4bb749" stroke-width="1.0"/>
<line x1="469.2" y1="215.6" x2="472.2" y2="215.6" stroke="#4bb749" stroke-width="1.0"/>
<circle cx="469.1" cy="215.6" r="1.45" fill="#4bb749" stroke="none" stroke-width="1"/>
<circle cx="472.3" cy="218.1" r="1.45" fill="#4bb749" stroke="none" stroke-width="1"/>
<circle cx="470.7" cy="221.5" r="1.45" fill="#4bb749" stroke="none" stroke-width="1"/>
<circle cx="469.7" cy="225.7" r="1.45" fill="#4bb749" stroke="none" stroke-width="1"/>
<circle cx="471.7" cy="226.5" r="1.45" fill="#4bb749" stroke="none" stroke-width="1"/>
<rect x="478.8" y="204.4" width="5.0" height="23.8" fill="#fff" stroke="#1c4b89" stroke-width="1.1"/>
<line x1="481.3" y1="204.4" x2="481.3" y2="186.5" stroke="#1c4b89" stroke-width="1.0"/>
<line x1="479.8" y1="186.5" x2="482.8" y2="186.5" stroke="#1c4b89" stroke-width="1.0"/>
<circle cx="479.7" cy="186.3" r="1.45" fill="#1c4b89" stroke="none" stroke-width="1"/>
<circle cx="482.9" cy="193.9" r="1.45" fill="#1c4b89" stroke="none" stroke-width="1"/>
<circle cx="481.3" cy="197.6" r="1.45" fill="#1c4b89" stroke="none" stroke-width="1"/>
<circle cx="480.3" cy="198.0" r="1.45" fill="#1c4b89" stroke="none" stroke-width="1"/>
<circle cx="482.3" cy="224.0" r="1.45" fill="#1c4b89" stroke="none" stroke-width="1"/>
<circle cx="481.8" cy="225.7" r="1.45" fill="#1c4b89" stroke="none" stroke-width="1"/>
<line x1="488.8" y1="228.2" x2="494.8" y2="228.2" stroke="#4bb749" stroke-width="1.5"/>
<line x1="491.8" y1="228.2" x2="491.8" y2="238.8" stroke="#4bb749" stroke-width="1.0"/>
<line x1="490.3" y1="238.8" x2="493.3" y2="238.8" stroke="#4bb749" stroke-width="1.0"/>
<circle cx="490.2" cy="215.6" r="1.45" fill="#4bb749" stroke="none" stroke-width="1"/>
<circle cx="493.4" cy="224.3" r="1.45" fill="#4bb749" stroke="none" stroke-width="1"/>
<circle cx="491.8" cy="228.2" r="1.45" fill="#4bb749" stroke="none" stroke-width="1"/>
<circle cx="490.8" cy="230.7" r="1.45" fill="#4bb749" stroke="none" stroke-width="1"/>
<circle cx="492.8" cy="243.0" r="1.45" fill="#4bb749" stroke="none" stroke-width="1"/>
<rect x="499.8" y="228.2" width="5.0" height="8.8" fill="#fff" stroke="#1c4b89" stroke-width="1.1"/>
<line x1="502.3" y1="237.0" x2="502.3" y2="241.6" stroke="#1c4b89" stroke-width="1.0"/>
<line x1="500.8" y1="241.6" x2="503.8" y2="241.6" stroke="#1c4b89" stroke-width="1.0"/>
<circle cx="500.7" cy="203.9" r="1.45" fill="#1c4b89" stroke="none" stroke-width="1"/>
<circle cx="503.9" cy="239.9" r="1.45" fill="#1c4b89" stroke="none" stroke-width="1"/>
<circle cx="502.3" cy="244.1" r="1.45" fill="#1c4b89" stroke="none" stroke-width="1"/>
<circle cx="501.3" cy="249.1" r="1.45" fill="#1c4b89" stroke="none" stroke-width="1"/>
<circle cx="503.3" cy="250.0" r="1.45" fill="#1c4b89" stroke="none" stroke-width="1"/>
<text x="474.9" y="177.0" font-size="7.4" text-anchor="middle" fill="#3a3a3a" stroke="#3a3a3a" stroke-width="0.15" textLength="31.8" lengthAdjust="spacingAndGlyphs"><tspan font-style="italic">P</tspan> = .0175</text>
<line x1="466.7" y1="182.3" x2="482.1" y2="182.3" stroke="#222" stroke-width="1.1"/>
<text x="496.5" y="193.8" font-size="7.4" text-anchor="middle" fill="#3a3a3a" stroke="#3a3a3a" stroke-width="0.15" textLength="9.8" lengthAdjust="spacingAndGlyphs">NS</text>
<line x1="488.5" y1="199.4" x2="504.2" y2="199.4" stroke="#222" stroke-width="1.1"/>
<text x="3.0" y="347.4" font-size="11.5" text-anchor="start" fill="#111" font-weight="bold">E</text>
<text x="102.6" y="347.8" font-size="7.0" text-anchor="middle" fill="#3a3a3a" stroke="#3a3a3a" stroke-width="0.15" textLength="44.8" lengthAdjust="spacingAndGlyphs">PB chimerism</text>
<line x1="29.0" y1="352.8" x2="29.0" y2="437.6" stroke="#2a2a2a" stroke-width="1.3"/>
<line x1="26.0" y1="434.9" x2="29.0" y2="434.9" stroke="#2a2a2a" stroke-width="1.1"/>
<text x="24.3" y="437.7" font-size="8" text-anchor="end" fill="#3a3a3a" stroke="#3a3a3a" stroke-width="0.15" textLength="4" lengthAdjust="spacingAndGlyphs">0</text>
<line x1="26.0" y1="408.6" x2="29.0" y2="408.6" stroke="#2a2a2a" stroke-width="1.1"/>
<text x="24.3" y="411.4" font-size="8" text-anchor="end" fill="#3a3a3a" stroke="#3a3a3a" stroke-width="0.15" textLength="8.5" lengthAdjust="spacingAndGlyphs">20</text>
<line x1="26.0" y1="382.3" x2="29.0" y2="382.3" stroke="#2a2a2a" stroke-width="1.1"/>
<text x="24.3" y="385.1" font-size="8" text-anchor="end" fill="#3a3a3a" stroke="#3a3a3a" stroke-width="0.15" textLength="8.5" lengthAdjust="spacingAndGlyphs">40</text>
<line x1="26.0" y1="356.0" x2="29.0" y2="356.0" stroke="#2a2a2a" stroke-width="1.1"/>
<text x="24.3" y="358.8" font-size="8" text-anchor="end" fill="#3a3a3a" stroke="#3a3a3a" stroke-width="0.15" textLength="8.5" lengthAdjust="spacingAndGlyphs">60</text>
<text x="8.6" y="395.2" font-size="6.5" text-anchor="middle" fill="#3a3a3a" transform="rotate(-90 8.6 395.2)" textLength="52" lengthAdjust="spacingAndGlyphs">CD45.2 (<tspan font-style="italic">Trp53</tspan><tspan font-size="4" dy="-2.5">−/−</tspan><tspan dy="2.5">) %</tspan></text>
<line x1="35.9" y1="448.3" x2="169.2" y2="448.3" stroke="#2a2a2a" stroke-width="1.3"/>
<line x1="41.5" y1="448.3" x2="41.5" y2="451.3" stroke="#2a2a2a" stroke-width="1.1"/>
<text x="41.5" y="460.8" font-size="8" text-anchor="middle" fill="#3a3a3a" stroke="#3a3a3a" stroke-width="0.15">0</text>
<line x1="73.0" y1="448.3" x2="73.0" y2="451.3" stroke="#2a2a2a" stroke-width="1.1"/>
<text x="73.0" y="460.8" font-size="8" text-anchor="middle" fill="#3a3a3a" stroke="#3a3a3a" stroke-width="0.15">10</text>
<line x1="104.5" y1="448.3" x2="104.5" y2="451.3" stroke="#2a2a2a" stroke-width="1.1"/>
<text x="104.5" y="460.8" font-size="8" text-anchor="middle" fill="#3a3a3a" stroke="#3a3a3a" stroke-width="0.15">20</text>
<line x1="136.0" y1="448.3" x2="136.0" y2="451.3" stroke="#2a2a2a" stroke-width="1.1"/>
<text x="136.0" y="460.8" font-size="8" text-anchor="middle" fill="#3a3a3a" stroke="#3a3a3a" stroke-width="0.15">30</text>
<line x1="167.5" y1="448.3" x2="167.5" y2="451.3" stroke="#2a2a2a" stroke-width="1.1"/>
<text x="167.5" y="460.8" font-size="8" text-anchor="middle" fill="#3a3a3a" stroke="#3a3a3a" stroke-width="0.15">40</text>
<text x="103.2" y="471.2" font-size="7" text-anchor="middle" fill="#3a3a3a" stroke="#3a3a3a" stroke-width="0.15" textLength="46.5" lengthAdjust="spacingAndGlyphs">Days of treatment</text>
<path d="M44.6,408.1 L66.7,406.7 L88.8,403.7 L110.8,405.4 L132.8,401.4 L154.9,400.6" stroke="#4bb749" fill="none" stroke-width="1.3"/>
<line x1="44.6" y1="406.6" x2="44.6" y2="409.6" stroke="#4bb749" stroke-width="0.9"/>
<line x1="43.4" y1="406.6" x2="45.9" y2="406.6" stroke="#4bb749" stroke-width="0.9"/>
<line x1="43.4" y1="409.6" x2="45.9" y2="409.6" stroke="#4bb749" stroke-width="0.9"/>
<circle cx="44.6" cy="408.1" r="1.7" fill="#4bb749" stroke="none" stroke-width="1"/>
<line x1="66.7" y1="404.7" x2="66.7" y2="408.7" stroke="#4bb749" stroke-width="0.9"/>
<line x1="65.4" y1="404.7" x2="68.0" y2="404.7" stroke="#4bb749" stroke-width="0.9"/>
<line x1="65.4" y1="408.7" x2="68.0" y2="408.7" stroke="#4bb749" stroke-width="0.9"/>
<circle cx="66.7" cy="406.7" r="1.7" fill="#4bb749" stroke="none" stroke-width="1"/>
<line x1="88.8" y1="401.7" x2="88.8" y2="405.7" stroke="#4bb749" stroke-width="0.9"/>
<line x1="87.5" y1="401.7" x2="90.0" y2="401.7" stroke="#4bb749" stroke-width="0.9"/>
<line x1="87.5" y1="405.7" x2="90.0" y2="405.7" stroke="#4bb749" stroke-width="0.9"/>
<circle cx="88.8" cy="403.7" r="1.7" fill="#4bb749" stroke="none" stroke-width="1"/>
<line x1="110.8" y1="402.9" x2="110.8" y2="407.9" stroke="#4bb749" stroke-width="0.9"/>
<line x1="109.5" y1="402.9" x2="112.1" y2="402.9" stroke="#4bb749" stroke-width="0.9"/>
<line x1="109.5" y1="407.9" x2="112.1" y2="407.9" stroke="#4bb749" stroke-width="0.9"/>
<circle cx="110.8" cy="405.4" r="1.7" fill="#4bb749" stroke="none" stroke-width="1"/>
<line x1="132.8" y1="399.4" x2="132.8" y2="403.4" stroke="#4bb749" stroke-width="0.9"/>
<line x1="131.5" y1="399.4" x2="134.2" y2="399.4" stroke="#4bb749" stroke-width="0.9"/>
<line x1="131.5" y1="403.4" x2="134.2" y2="403.4" stroke="#4bb749" stroke-width="0.9"/>
<circle cx="132.8" cy="401.4" r="1.7" fill="#4bb749" stroke="none" stroke-width="1"/>
<line x1="154.9" y1="398.6" x2="154.9" y2="402.6" stroke="#4bb749" stroke-width="0.9"/>
<line x1="153.6" y1="398.6" x2="156.2" y2="398.6" stroke="#4bb749" stroke-width="0.9"/>
<line x1="153.6" y1="402.6" x2="156.2" y2="402.6" stroke="#4bb749" stroke-width="0.9"/>
<circle cx="154.9" cy="400.6" r="1.7" fill="#4bb749" stroke="none" stroke-width="1"/>
<path d="M44.6,405.0 L66.7,403.8 L88.8,401.0 L110.8,401.0 L132.8,397.4 L154.9,395.8" stroke="#c8183c" fill="none" stroke-width="1.3"/>
<line x1="44.6" y1="403.5" x2="44.6" y2="406.5" stroke="#c8183c" stroke-width="0.9"/>
<line x1="43.4" y1="403.5" x2="45.9" y2="403.5" stroke="#c8183c" stroke-width="0.9"/>
<line x1="43.4" y1="406.5" x2="45.9" y2="406.5" stroke="#c8183c" stroke-width="0.9"/>
<path d="M44.6,403.0 L46.5,406.5 L42.8,406.5 Z" stroke="none" fill="#c8183c" stroke-width="1"/>
<line x1="66.7" y1="401.8" x2="66.7" y2="405.8" stroke="#c8183c" stroke-width="0.9"/>
<line x1="65.4" y1="401.8" x2="68.0" y2="401.8" stroke="#c8183c" stroke-width="0.9"/>
<line x1="65.4" y1="405.8" x2="68.0" y2="405.8" stroke="#c8183c" stroke-width="0.9"/>
<path d="M66.7,401.8 L68.6,405.3 L64.8,405.3 Z" stroke="none" fill="#c8183c" stroke-width="1"/>
<line x1="88.8" y1="398.5" x2="88.8" y2="403.5" stroke="#c8183c" stroke-width="0.9"/>
<line x1="87.5" y1="398.5" x2="90.0" y2="398.5" stroke="#c8183c" stroke-width="0.9"/>
<line x1="87.5" y1="403.5" x2="90.0" y2="403.5" stroke="#c8183c" stroke-width="0.9"/>
<path d="M88.8,399.0 L90.7,402.5 L86.8,402.5 Z" stroke="none" fill="#c8183c" stroke-width="1"/>
<line x1="110.8" y1="397.0" x2="110.8" y2="405.0" stroke="#c8183c" stroke-width="0.9"/>
<line x1="109.5" y1="397.0" x2="112.1" y2="397.0" stroke="#c8183c" stroke-width="0.9"/>
<line x1="109.5" y1="405.0" x2="112.1" y2="405.0" stroke="#c8183c" stroke-width="0.9"/>
<path d="M110.8,399.0 L112.7,402.5 L108.9,402.5 Z" stroke="none" fill="#c8183c" stroke-width="1"/>
<line x1="132.8" y1="393.4" x2="132.8" y2="401.4" stroke="#c8183c" stroke-width="0.9"/>
<line x1="131.5" y1="393.4" x2="134.2" y2="393.4" stroke="#c8183c" stroke-width="0.9"/>
<line x1="131.5" y1="401.4" x2="134.2" y2="401.4" stroke="#c8183c" stroke-width="0.9"/>
<path d="M132.8,395.4 L134.8,398.9 L130.9,398.9 Z" stroke="none" fill="#c8183c" stroke-width="1"/>
<line x1="154.9" y1="391.8" x2="154.9" y2="399.8" stroke="#c8183c" stroke-width="0.9"/>
<line x1="153.6" y1="391.8" x2="156.2" y2="391.8" stroke="#c8183c" stroke-width="0.9"/>
<line x1="153.6" y1="399.8" x2="156.2" y2="399.8" stroke="#c8183c" stroke-width="0.9"/>
<path d="M154.9,393.8 L156.8,397.3 L153.0,397.3 Z" stroke="none" fill="#c8183c" stroke-width="1"/>
<path d="M44.6,404.2 L66.7,400.4 L88.8,395.2 L110.8,388.8 L132.8,382.2 L154.9,371.1" stroke="#1c4b89" fill="none" stroke-width="1.3"/>
<line x1="44.6" y1="402.2" x2="44.6" y2="406.2" stroke="#1c4b89" stroke-width="0.9"/>
<line x1="43.4" y1="402.2" x2="45.9" y2="402.2" stroke="#1c4b89" stroke-width="0.9"/>
<line x1="43.4" y1="406.2" x2="45.9" y2="406.2" stroke="#1c4b89" stroke-width="0.9"/>
<rect x="42.9" y="402.4" width="3.6" height="3.6" fill="#1c4b89" stroke="none" stroke-width="1"/>
<line x1="66.7" y1="397.9" x2="66.7" y2="402.9" stroke="#1c4b89" stroke-width="0.9"/>
<line x1="65.4" y1="397.9" x2="68.0" y2="397.9" stroke="#1c4b89" stroke-width="0.9"/>
<line x1="65.4" y1="402.9" x2="68.0" y2="402.9" stroke="#1c4b89" stroke-width="0.9"/>
<rect x="64.9" y="398.6" width="3.6" height="3.6" fill="#1c4b89" stroke="none" stroke-width="1"/>
<line x1="88.8" y1="392.2" x2="88.8" y2="398.2" stroke="#1c4b89" stroke-width="0.9"/>
<line x1="87.5" y1="392.2" x2="90.0" y2="392.2" stroke="#1c4b89" stroke-width="0.9"/>
<line x1="87.5" y1="398.2" x2="90.0" y2="398.2" stroke="#1c4b89" stroke-width="0.9"/>
<rect x="87.0" y="393.4" width="3.6" height="3.6" fill="#1c4b89" stroke="none" stroke-width="1"/>
<line x1="110.8" y1="386.3" x2="110.8" y2="391.3" stroke="#1c4b89" stroke-width="0.9"/>
<line x1="109.5" y1="386.3" x2="112.1" y2="386.3" stroke="#1c4b89" stroke-width="0.9"/>
<line x1="109.5" y1="391.3" x2="112.1" y2="391.3" stroke="#1c4b89" stroke-width="0.9"/>
<rect x="109.0" y="387.0" width="3.6" height="3.6" fill="#1c4b89" stroke="none" stroke-width="1"/>
<line x1="132.8" y1="379.7" x2="132.8" y2="384.7" stroke="#1c4b89" stroke-width="0.9"/>
<line x1="131.5" y1="379.7" x2="134.2" y2="379.7" stroke="#1c4b89" stroke-width="0.9"/>
<line x1="131.5" y1="384.7" x2="134.2" y2="384.7" stroke="#1c4b89" stroke-width="0.9"/>
<rect x="131.0" y="380.4" width="3.6" height="3.6" fill="#1c4b89" stroke="none" stroke-width="1"/>
<line x1="154.9" y1="367.6" x2="154.9" y2="374.6" stroke="#1c4b89" stroke-width="0.9"/>
<line x1="153.6" y1="367.6" x2="156.2" y2="367.6" stroke="#1c4b89" stroke-width="0.9"/>
<line x1="153.6" y1="374.6" x2="156.2" y2="374.6" stroke="#1c4b89" stroke-width="0.9"/>
<rect x="153.1" y="369.3" width="3.6" height="3.6" fill="#1c4b89" stroke="none" stroke-width="1"/>
<path d="M160.2,369.2 L163.3,369.2 L163.3,402.2 L160.2,402.2" stroke="#333" fill="none" stroke-width="1.1"/>
<path d="M167.4,392.3 L169.9,392.3 L169.9,402.2 L167.4,402.2" stroke="#333" fill="none" stroke-width="1.1"/>
<text x="168.4" y="384.6" font-size="8" text-anchor="start" fill="#333" stroke="#333" stroke-width="0.15" textLength="12" lengthAdjust="spacingAndGlyphs">****</text>
<text x="172.3" y="399.3" font-size="8" text-anchor="start" fill="#3a3a3a" stroke="#3a3a3a" stroke-width="0.15" textLength="7.5" lengthAdjust="spacingAndGlyphs">ns</text>
<line x1="83.8" y1="419.0" x2="94.4" y2="419.0" stroke="#4bb749" stroke-width="1.3"/>
<circle cx="89.1" cy="419.0" r="1.7" fill="#4bb749" stroke="none" stroke-width="1"/>
<text x="97.7" y="421.6" font-size="7.3" text-anchor="start" fill="#3a3a3a" stroke="#3a3a3a" stroke-width="0.15" textLength="22.7" lengthAdjust="spacingAndGlyphs">DMSO</text>
<line x1="83.8" y1="430.6" x2="94.4" y2="430.6" stroke="#1c4b89" stroke-width="1.3"/>
<rect x="87.3" y="428.8" width="3.6" height="3.6" fill="#1c4b89" stroke="none" stroke-width="1"/>
<text x="97.7" y="433.2" font-size="7.3" text-anchor="start" fill="#3a3a3a" stroke="#3a3a3a" stroke-width="0.15" textLength="45.5" lengthAdjust="spacingAndGlyphs">Lenalidomide</text>
<line x1="83.8" y1="441.8" x2="94.4" y2="441.8" stroke="#c8183c" stroke-width="1.3"/>
<path d="M89.1,439.8 L91.0,443.3 L87.2,443.3 Z" stroke="none" fill="#c8183c" stroke-width="1"/>
<text x="97.7" y="444.4" font-size="7.3" text-anchor="start" fill="#3a3a3a" stroke="#3a3a3a" stroke-width="0.15" textLength="48.2" lengthAdjust="spacingAndGlyphs">Pomalidomide</text>
<text x="189.7" y="346.5" font-size="11.5" text-anchor="start" fill="#111" font-weight="bold">F</text>
<text x="279.0" y="347.8" font-size="7.0" text-anchor="middle" fill="#3a3a3a" stroke="#3a3a3a" stroke-width="0.15" textLength="48.5" lengthAdjust="spacingAndGlyphs">BM chimerism</text>
<line x1="219.0" y1="353.0" x2="219.0" y2="437.6" stroke="#2a2a2a" stroke-width="1.3"/>
<line x1="216.0" y1="437.0" x2="219.0" y2="437.0" stroke="#2a2a2a" stroke-width="1.1"/>
<text x="213.3" y="439.8" font-size="8" text-anchor="end" fill="#3a3a3a" stroke="#3a3a3a" stroke-width="0.15" textLength="4" lengthAdjust="spacingAndGlyphs">0</text>
<line x1="216.0" y1="416.8" x2="219.0" y2="416.8" stroke="#2a2a2a" stroke-width="1.1"/>
<text x="213.3" y="419.6" font-size="8" text-anchor="end" fill="#3a3a3a" stroke="#3a3a3a" stroke-width="0.15" textLength="8.5" lengthAdjust="spacingAndGlyphs">20</text>
<line x1="216.0" y1="396.6" x2="219.0" y2="396.6" stroke="#2a2a2a" stroke-width="1.1"/>
<text x="213.3" y="399.4" font-size="8" text-anchor="end" fill="#3a3a3a" stroke="#3a3a3a" stroke-width="0.15" textLength="8.5" lengthAdjust="spacingAndGlyphs">40</text>
<line x1="216.0" y1="376.4" x2="219.0" y2="376.4" stroke="#2a2a2a" stroke-width="1.1"/>
<text x="213.3" y="379.2" font-size="8" text-anchor="end" fill="#3a3a3a" stroke="#3a3a3a" stroke-width="0.15" textLength="8.5" lengthAdjust="spacingAndGlyphs">60</text>
<line x1="216.0" y1="356.2" x2="219.0" y2="356.2" stroke="#2a2a2a" stroke-width="1.1"/>
<text x="213.3" y="359.0" font-size="8" text-anchor="end" fill="#3a3a3a" stroke="#3a3a3a" stroke-width="0.15" textLength="8.5" lengthAdjust="spacingAndGlyphs">80</text>
<text x="197.2" y="397.0" font-size="6.5" text-anchor="middle" fill="#3a3a3a" transform="rotate(-90 197.2 397.0)" textLength="52" lengthAdjust="spacingAndGlyphs">CD45.2 (<tspan font-style="italic">Trp53</tspan><tspan font-size="4" dy="-2.5">−/−</tspan><tspan dy="2.5">) %</tspan></text>
<line x1="218.4" y1="437.2" x2="340.8" y2="437.2" stroke="#2a2a2a" stroke-width="1.3"/>
<line x1="226.8" y1="437.2" x2="226.8" y2="439.8" stroke="#2a2a2a" stroke-width="1.1"/>
<line x1="222.4" y1="418.8" x2="222.4" y2="414.8" stroke="#3fae3a" stroke-width="0.9"/>
<line x1="221.2" y1="414.8" x2="223.6" y2="414.8" stroke="#3fae3a" stroke-width="0.9"/>
<rect x="220.6" y="418.8" width="3.6" height="18.2" fill="#3fae3a" stroke="none" stroke-width="1"/>
<line x1="226.8" y1="388.5" x2="226.8" y2="382.5" stroke="#8aa8d8" stroke-width="0.9"/>
<line x1="225.6" y1="382.5" x2="228.0" y2="382.5" stroke="#8aa8d8" stroke-width="0.9"/>
<rect x="225.0" y="388.5" width="3.6" height="48.5" fill="#1c4b89" stroke="none" stroke-width="1"/>
<line x1="231.2" y1="410.7" x2="231.2" y2="406.7" stroke="#c8123a" stroke-width="0.9"/>
<line x1="230.1" y1="406.7" x2="232.4" y2="406.7" stroke="#c8123a" stroke-width="0.9"/>
<rect x="229.4" y="410.7" width="3.6" height="26.3" fill="#c8123a" stroke="none" stroke-width="1"/>
<text x="230.2" y="445.0" font-size="8" text-anchor="end" fill="#3a3a3a" stroke="#3a3a3a" stroke-width="0.15" textLength="24.5" lengthAdjust="spacingAndGlyphs" transform="rotate(-45 230.2 445.0)">LT-HSC</text>
<line x1="244.4" y1="437.2" x2="244.4" y2="439.8" stroke="#2a2a2a" stroke-width="1.1"/>
<line x1="239.9" y1="426.4" x2="239.9" y2="423.4" stroke="#3fae3a" stroke-width="0.9"/>
<line x1="238.7" y1="423.4" x2="241.1" y2="423.4" stroke="#3fae3a" stroke-width="0.9"/>
<rect x="238.1" y="426.4" width="3.6" height="10.6" fill="#3fae3a" stroke="none" stroke-width="1"/>
<line x1="244.4" y1="412.8" x2="244.4" y2="408.2" stroke="#8aa8d8" stroke-width="0.9"/>
<line x1="243.2" y1="408.2" x2="245.6" y2="408.2" stroke="#8aa8d8" stroke-width="0.9"/>
<rect x="242.6" y="412.8" width="3.6" height="24.2" fill="#1c4b89" stroke="none" stroke-width="1"/>
<line x1="248.8" y1="424.9" x2="248.8" y2="421.9" stroke="#c8123a" stroke-width="0.9"/>
<line x1="247.6" y1="421.9" x2="250.0" y2="421.9" stroke="#c8123a" stroke-width="0.9"/>
<rect x="247.0" y="424.9" width="3.6" height="12.1" fill="#c8123a" stroke="none" stroke-width="1"/>
<text x="247.8" y="445.0" font-size="8" text-anchor="end" fill="#3a3a3a" stroke="#3a3a3a" stroke-width="0.15" textLength="24.5" lengthAdjust="spacingAndGlyphs" transform="rotate(-45 247.8 445.0)">ST-HSC</text>
<line x1="261.9" y1="437.2" x2="261.9" y2="439.8" stroke="#2a2a2a" stroke-width="1.1"/>
<line x1="257.5" y1="421.3" x2="257.5" y2="417.3" stroke="#3fae3a" stroke-width="0.9"/>
<line x1="256.3" y1="417.3" x2="258.7" y2="417.3" stroke="#3fae3a" stroke-width="0.9"/>
<rect x="255.7" y="421.3" width="3.6" height="15.7" fill="#3fae3a" stroke="none" stroke-width="1"/>
<line x1="261.9" y1="388.0" x2="261.9" y2="383.0" stroke="#8aa8d8" stroke-width="0.9"/>
<line x1="260.7" y1="383.0" x2="263.1" y2="383.0" stroke="#8aa8d8" stroke-width="0.9"/>
<rect x="260.1" y="388.0" width="3.6" height="49.0" fill="#1c4b89" stroke="none" stroke-width="1"/>
<line x1="266.4" y1="414.8" x2="266.4" y2="410.7" stroke="#c8123a" stroke-width="0.9"/>
<line x1="265.2" y1="410.7" x2="267.6" y2="410.7" stroke="#c8123a" stroke-width="0.9"/>
<rect x="264.6" y="414.8" width="3.6" height="22.2" fill="#c8123a" stroke="none" stroke-width="1"/>
<text x="265.3" y="445.0" font-size="8" text-anchor="end" fill="#3a3a3a" stroke="#3a3a3a" stroke-width="0.15" textLength="16.5" lengthAdjust="spacingAndGlyphs" transform="rotate(-45 265.3 445.0)">MPP</text>
<line x1="279.5" y1="437.2" x2="279.5" y2="439.8" stroke="#2a2a2a" stroke-width="1.1"/>
<line x1="275.0" y1="420.8" x2="275.0" y2="416.8" stroke="#3fae3a" stroke-width="0.9"/>
<line x1="273.8" y1="416.8" x2="276.2" y2="416.8" stroke="#3fae3a" stroke-width="0.9"/>
<rect x="273.2" y="420.8" width="3.6" height="16.2" fill="#3fae3a" stroke="none" stroke-width="1"/>
<line x1="279.5" y1="387.0" x2="279.5" y2="381.4" stroke="#8aa8d8" stroke-width="0.9"/>
<line x1="278.3" y1="381.4" x2="280.7" y2="381.4" stroke="#8aa8d8" stroke-width="0.9"/>
<rect x="277.7" y="387.0" width="3.6" height="50.0" fill="#1c4b89" stroke="none" stroke-width="1"/>
<line x1="283.9" y1="409.2" x2="283.9" y2="405.2" stroke="#c8123a" stroke-width="0.9"/>
<line x1="282.7" y1="405.2" x2="285.1" y2="405.2" stroke="#c8123a" stroke-width="0.9"/>
<rect x="282.1" y="409.2" width="3.6" height="27.8" fill="#c8123a" stroke="none" stroke-width="1"/>
<text x="282.9" y="445.0" font-size="8" text-anchor="end" fill="#3a3a3a" stroke="#3a3a3a" stroke-width="0.15" textLength="17" lengthAdjust="spacingAndGlyphs" transform="rotate(-45 282.9 445.0)">CMP</text>
<line x1="297.0" y1="437.2" x2="297.0" y2="439.8" stroke="#2a2a2a" stroke-width="1.1"/>
<line x1="292.6" y1="419.8" x2="292.6" y2="414.8" stroke="#3fae3a" stroke-width="0.9"/>
<line x1="291.4" y1="414.8" x2="293.8" y2="414.8" stroke="#3fae3a" stroke-width="0.9"/>
<rect x="290.8" y="419.8" width="3.6" height="17.2" fill="#3fae3a" stroke="none" stroke-width="1"/>
<line x1="297.0" y1="385.0" x2="297.0" y2="378.9" stroke="#8aa8d8" stroke-width="0.9"/>
<line x1="295.8" y1="378.9" x2="298.2" y2="378.9" stroke="#8aa8d8" stroke-width="0.9"/>
<rect x="295.2" y="385.0" width="3.6" height="52.0" fill="#1c4b89" stroke="none" stroke-width="1"/>
<line x1="301.4" y1="411.8" x2="301.4" y2="406.7" stroke="#c8123a" stroke-width="0.9"/>
<line x1="300.2" y1="406.7" x2="302.6" y2="406.7" stroke="#c8123a" stroke-width="0.9"/>
<rect x="299.6" y="411.8" width="3.6" height="25.2" fill="#c8123a" stroke="none" stroke-width="1"/>
<text x="300.4" y="445.0" font-size="8" text-anchor="end" fill="#3a3a3a" stroke="#3a3a3a" stroke-width="0.15" textLength="17" lengthAdjust="spacingAndGlyphs" transform="rotate(-45 300.4 445.0)">GMP</text>
<line x1="314.6" y1="437.2" x2="314.6" y2="439.8" stroke="#2a2a2a" stroke-width="1.1"/>
<line x1="310.1" y1="428.9" x2="310.1" y2="425.9" stroke="#3fae3a" stroke-width="0.9"/>
<line x1="308.9" y1="425.9" x2="311.3" y2="425.9" stroke="#3fae3a" stroke-width="0.9"/>
<rect x="308.3" y="428.9" width="3.6" height="8.1" fill="#3fae3a" stroke="none" stroke-width="1"/>
<line x1="314.6" y1="410.7" x2="314.6" y2="404.7" stroke="#8aa8d8" stroke-width="0.9"/>
<line x1="313.4" y1="404.7" x2="315.8" y2="404.7" stroke="#8aa8d8" stroke-width="0.9"/>
<rect x="312.8" y="410.7" width="3.6" height="26.3" fill="#1c4b89" stroke="none" stroke-width="1"/>
<line x1="319.0" y1="428.9" x2="319.0" y2="426.9" stroke="#c8123a" stroke-width="0.9"/>
<line x1="317.8" y1="426.9" x2="320.2" y2="426.9" stroke="#c8123a" stroke-width="0.9"/>
<rect x="317.2" y="428.9" width="3.6" height="8.1" fill="#c8123a" stroke="none" stroke-width="1"/>
<text x="317.9" y="445.0" font-size="8" text-anchor="end" fill="#3a3a3a" stroke="#3a3a3a" stroke-width="0.15" textLength="16" lengthAdjust="spacingAndGlyphs" transform="rotate(-45 317.9 445.0)">MEP</text>
<line x1="332.1" y1="437.2" x2="332.1" y2="439.8" stroke="#2a2a2a" stroke-width="1.1"/>
<line x1="327.7" y1="422.9" x2="327.7" y2="419.8" stroke="#3fae3a" stroke-width="0.9"/>
<line x1="326.5" y1="419.8" x2="328.9" y2="419.8" stroke="#3fae3a" stroke-width="0.9"/>
<rect x="325.9" y="422.9" width="3.6" height="14.1" fill="#3fae3a" stroke="none" stroke-width="1"/>
<line x1="332.1" y1="389.5" x2="332.1" y2="383.5" stroke="#8aa8d8" stroke-width="0.9"/>
<line x1="330.9" y1="383.5" x2="333.3" y2="383.5" stroke="#8aa8d8" stroke-width="0.9"/>
<rect x="330.3" y="389.5" width="3.6" height="47.5" fill="#1c4b89" stroke="none" stroke-width="1"/>
<line x1="336.6" y1="418.8" x2="336.6" y2="415.8" stroke="#c8123a" stroke-width="0.9"/>
<line x1="335.4" y1="415.8" x2="337.8" y2="415.8" stroke="#c8123a" stroke-width="0.9"/>
<rect x="334.8" y="418.8" width="3.6" height="18.2" fill="#c8123a" stroke="none" stroke-width="1"/>
<text x="335.5" y="445.0" font-size="8" text-anchor="end" fill="#3a3a3a" stroke="#3a3a3a" stroke-width="0.15" textLength="14" lengthAdjust="spacingAndGlyphs" transform="rotate(-45 335.5 445.0)">LSK</text>
<rect x="251.9" y="463.3" width="9.7" height="5.0" fill="#3fae3a" stroke="none" stroke-width="1"/>
<text x="266.8" y="467.7" font-size="7.2" text-anchor="start" fill="#3a3a3a" stroke="#3a3a3a" stroke-width="0.15" textLength="22" lengthAdjust="spacingAndGlyphs">DMSO</text>
<rect x="251.9" y="474.1" width="9.7" height="5.0" fill="#1c4b89" stroke="none" stroke-width="1"/>
<text x="266.8" y="478.5" font-size="7.2" text-anchor="start" fill="#3a3a3a" stroke="#3a3a3a" stroke-width="0.15" textLength="45.1" lengthAdjust="spacingAndGlyphs">Lenalidomide</text>
<rect x="251.9" y="485.0" width="9.7" height="5.0" fill="#c8123a" stroke="none" stroke-width="1"/>
<text x="266.8" y="489.4" font-size="7.2" text-anchor="start" fill="#3a3a3a" stroke="#3a3a3a" stroke-width="0.15" textLength="48.2" lengthAdjust="spacingAndGlyphs">Pomalidomide</text>
<text x="348.0" y="347.4" font-size="11.5" text-anchor="start" fill="#111" font-weight="bold">G</text>
<text x="450.0" y="347.8" font-size="7.0" text-anchor="middle" fill="#3a3a3a" stroke="#3a3a3a" stroke-width="0.15" textLength="44.8" lengthAdjust="spacingAndGlyphs">PB chimerism</text>
<line x1="379.4" y1="354.0" x2="379.4" y2="438.6" stroke="#2a2a2a" stroke-width="1.3"/>
<line x1="376.4" y1="436.8" x2="379.4" y2="436.8" stroke="#2a2a2a" stroke-width="1.1"/>
<text x="374.4" y="439.6" font-size="8" text-anchor="end" fill="#3a3a3a" stroke="#3a3a3a" stroke-width="0.15" textLength="4" lengthAdjust="spacingAndGlyphs">0</text>
<line x1="376.4" y1="420.9" x2="379.4" y2="420.9" stroke="#2a2a2a" stroke-width="1.1"/>
<text x="374.4" y="423.7" font-size="8" text-anchor="end" fill="#3a3a3a" stroke="#3a3a3a" stroke-width="0.15" textLength="8.5" lengthAdjust="spacingAndGlyphs">20</text>
<line x1="376.4" y1="405.0" x2="379.4" y2="405.0" stroke="#2a2a2a" stroke-width="1.1"/>
<text x="374.4" y="407.8" font-size="8" text-anchor="end" fill="#3a3a3a" stroke="#3a3a3a" stroke-width="0.15" textLength="8.5" lengthAdjust="spacingAndGlyphs">40</text>
<line x1="376.4" y1="389.1" x2="379.4" y2="389.1" stroke="#2a2a2a" stroke-width="1.1"/>
<text x="374.4" y="391.9" font-size="8" text-anchor="end" fill="#3a3a3a" stroke="#3a3a3a" stroke-width="0.15" textLength="8.5" lengthAdjust="spacingAndGlyphs">60</text>
<line x1="376.4" y1="373.2" x2="379.4" y2="373.2" stroke="#2a2a2a" stroke-width="1.1"/>
<text x="374.4" y="376.0" font-size="8" text-anchor="end" fill="#3a3a3a" stroke="#3a3a3a" stroke-width="0.15" textLength="8.5" lengthAdjust="spacingAndGlyphs">80</text>
<line x1="376.4" y1="357.3" x2="379.4" y2="357.3" stroke="#2a2a2a" stroke-width="1.1"/>
<text x="374.4" y="360.1" font-size="8" text-anchor="end" fill="#3a3a3a" stroke="#3a3a3a" stroke-width="0.15" textLength="12.5" lengthAdjust="spacingAndGlyphs">100</text>
<text x="355.8" y="398.0" font-size="6.5" text-anchor="middle" fill="#3a3a3a" transform="rotate(-90 355.8 398.0)" textLength="50" lengthAdjust="spacingAndGlyphs">CD45.2 (<tspan font-style="italic">Tet2</tspan><tspan font-size="4" dy="-2.5">−/−</tspan><tspan dy="2.5">) %</tspan></text>
<line x1="383.3" y1="449.4" x2="518.3" y2="449.4" stroke="#2a2a2a" stroke-width="1.3"/>
<line x1="390.2" y1="449.4" x2="390.2" y2="452.4" stroke="#2a2a2a" stroke-width="1.1"/>
<text x="390.2" y="462.0" font-size="8" text-anchor="middle" fill="#3a3a3a" stroke="#3a3a3a" stroke-width="0.15">0</text>
<line x1="431.7" y1="449.4" x2="431.7" y2="452.4" stroke="#2a2a2a" stroke-width="1.1"/>
<text x="431.7" y="462.0" font-size="8" text-anchor="middle" fill="#3a3a3a" stroke="#3a3a3a" stroke-width="0.15">10</text>
<line x1="473.2" y1="449.4" x2="473.2" y2="452.4" stroke="#2a2a2a" stroke-width="1.1"/>
<text x="473.2" y="462.0" font-size="8" text-anchor="middle" fill="#3a3a3a" stroke="#3a3a3a" stroke-width="0.15">20</text>
<line x1="514.7" y1="449.4" x2="514.7" y2="452.4" stroke="#2a2a2a" stroke-width="1.1"/>
<text x="514.7" y="462.0" font-size="8" text-anchor="middle" fill="#3a3a3a" stroke="#3a3a3a" stroke-width="0.15">30</text>
<text x="451.0" y="472.6" font-size="7" text-anchor="middle" fill="#3a3a3a" stroke="#3a3a3a" stroke-width="0.15" textLength="46.5" lengthAdjust="spacingAndGlyphs">Days of treatment</text>
<path d="M394.3,394.7 L423.4,397.4 L452.4,396.3 L481.5,397.8 L510.6,391.1" stroke="#1c4b89" fill="none" stroke-width="1.3"/>
<line x1="394.3" y1="392.7" x2="394.3" y2="396.7" stroke="#1c4b89" stroke-width="0.9"/>
<rect x="392.5" y="392.9" width="3.6" height="3.6" fill="#1c4b89" stroke="none" stroke-width="1"/>
<line x1="423.4" y1="395.4" x2="423.4" y2="399.4" stroke="#1c4b89" stroke-width="0.9"/>
<rect x="421.6" y="395.6" width="3.6" height="3.6" fill="#1c4b89" stroke="none" stroke-width="1"/>
<line x1="452.4" y1="394.3" x2="452.4" y2="398.3" stroke="#1c4b89" stroke-width="0.9"/>
<rect x="450.6" y="394.5" width="3.6" height="3.6" fill="#1c4b89" stroke="none" stroke-width="1"/>
<line x1="481.5" y1="395.8" x2="481.5" y2="399.8" stroke="#1c4b89" stroke-width="0.9"/>
<rect x="479.7" y="396.0" width="3.6" height="3.6" fill="#1c4b89" stroke="none" stroke-width="1"/>
<line x1="510.6" y1="389.1" x2="510.6" y2="393.1" stroke="#1c4b89" stroke-width="0.9"/>
<rect x="508.8" y="389.3" width="3.6" height="3.6" fill="#1c4b89" stroke="none" stroke-width="1"/>
<path d="M394.3,392.7 L423.4,392.4 L452.4,391.1 L481.5,390.3 L510.6,391.5" stroke="#4bb749" fill="none" stroke-width="1.3"/>
<line x1="394.3" y1="390.7" x2="394.3" y2="394.7" stroke="#4bb749" stroke-width="0.9"/>
<circle cx="394.3" cy="392.7" r="1.7" fill="#4bb749" stroke="none" stroke-width="1"/>
<line x1="423.4" y1="390.4" x2="423.4" y2="394.4" stroke="#4bb749" stroke-width="0.9"/>
<circle cx="423.4" cy="392.4" r="1.7" fill="#4bb749" stroke="none" stroke-width="1"/>
<line x1="452.4" y1="389.1" x2="452.4" y2="393.1" stroke="#4bb749" stroke-width="0.9"/>
<circle cx="452.4" cy="391.1" r="1.7" fill="#4bb749" stroke="none" stroke-width="1"/>
<line x1="481.5" y1="388.3" x2="481.5" y2="392.3" stroke="#4bb749" stroke-width="0.9"/>
<circle cx="481.5" cy="390.3" r="1.7" fill="#4bb749" stroke="none" stroke-width="1"/>
<line x1="510.6" y1="389.5" x2="510.6" y2="393.5" stroke="#4bb749" stroke-width="0.9"/>
<circle cx="510.6" cy="391.5" r="1.7" fill="#4bb749" stroke="none" stroke-width="1"/>
<line x1="452.5" y1="428.0" x2="462.9" y2="428.0" stroke="#4bb749" stroke-width="1.3"/>
<circle cx="457.7" cy="428.0" r="1.7" fill="#4bb749" stroke="none" stroke-width="1"/>
<text x="466.3" y="430.6" font-size="7.3" text-anchor="start" fill="#3a3a3a" stroke="#3a3a3a" stroke-width="0.15" textLength="22.7" lengthAdjust="spacingAndGlyphs">DMSO</text>
<line x1="452.5" y1="439.4" x2="462.9" y2="439.4" stroke="#1c4b89" stroke-width="1.3"/>
<rect x="455.9" y="437.6" width="3.6" height="3.6" fill="#1c4b89" stroke="none" stroke-width="1"/>
<text x="466.3" y="442.0" font-size="7.3" text-anchor="start" fill="#3a3a3a" stroke="#3a3a3a" stroke-width="0.15" textLength="45.5" lengthAdjust="spacingAndGlyphs">Lenalidomide</text>
</svg>
</body></html>
